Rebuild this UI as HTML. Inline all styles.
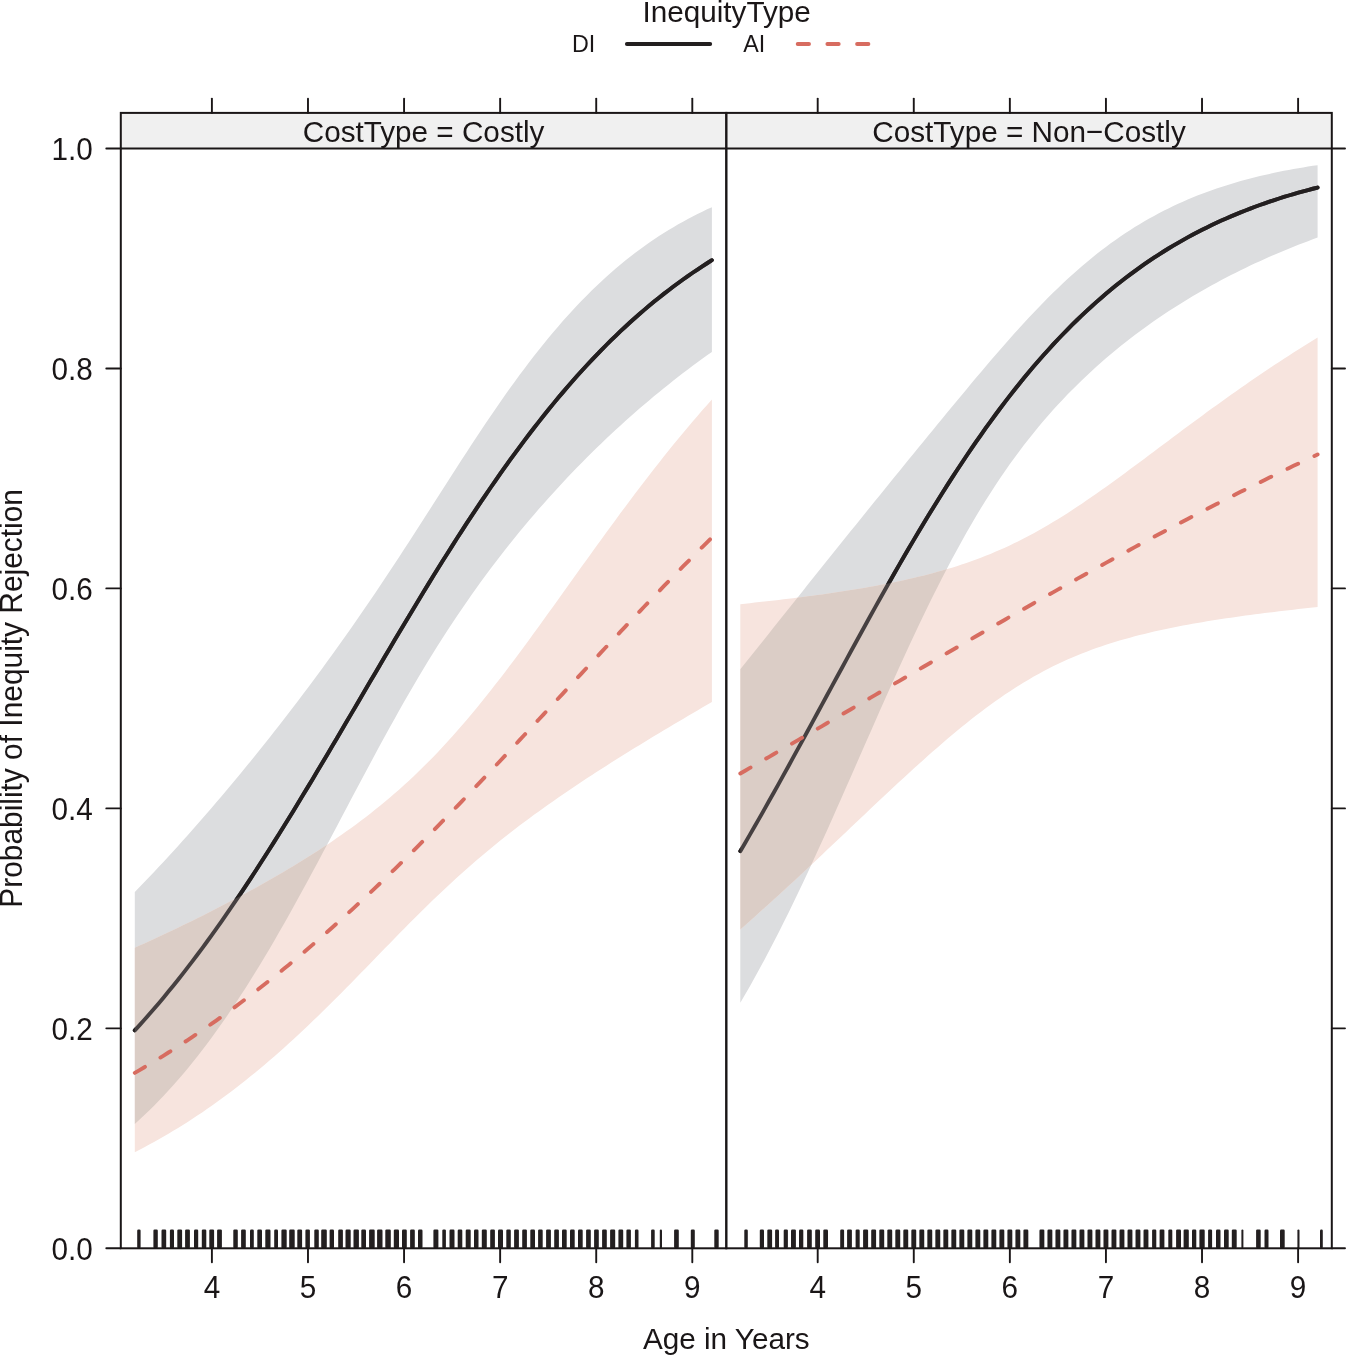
<!DOCTYPE html>
<html><head><meta charset="utf-8"><style>
html,body{margin:0;padding:0;background:#fff;}
svg{display:block;will-change:transform;}
text{font-family:"Liberation Sans",sans-serif;font-size:29.7px;fill:#1a1617;}
</style></head><body>
<svg width="1347" height="1356" viewBox="0 0 1347 1356">
<rect width="1347" height="1356" fill="#fff"/>
<path d="M134.80,892.06 L139.61,887.10 L144.42,882.10 L149.23,877.05 L154.04,871.96 L158.85,866.83 L163.66,861.66 L168.46,856.44 L173.27,851.19 L178.08,845.89 L182.89,840.55 L187.70,835.18 L192.51,829.76 L197.32,824.30 L202.13,818.80 L206.94,813.26 L211.75,807.68 L216.56,802.06 L221.37,796.41 L226.17,790.71 L230.98,784.97 L235.79,779.20 L240.60,773.38 L245.41,767.52 L250.22,761.63 L255.03,755.69 L259.84,749.72 L264.65,743.70 L269.46,737.64 L274.27,731.55 L279.07,725.41 L283.88,719.23 L288.69,713.00 L293.50,706.74 L298.31,700.43 L303.12,694.07 L307.93,687.67 L312.74,681.23 L317.55,674.74 L322.36,668.20 L327.17,661.61 L331.98,654.98 L336.78,648.29 L341.59,641.56 L346.40,634.77 L351.21,627.93 L356.02,621.04 L360.83,614.10 L365.64,607.11 L370.45,600.06 L375.26,592.96 L380.07,585.81 L384.88,578.62 L389.69,571.37 L394.50,564.08 L399.30,556.75 L404.11,549.37 L408.92,541.96 L413.73,534.52 L418.54,527.05 L423.35,519.56 L428.16,512.06 L432.97,504.54 L437.78,497.01 L442.59,489.49 L447.40,481.98 L452.20,474.48 L457.01,467.01 L461.82,459.57 L466.63,452.16 L471.44,444.80 L476.25,437.50 L481.06,430.25 L485.87,423.06 L490.68,415.95 L495.49,408.92 L500.30,401.96 L505.11,395.10 L509.91,388.33 L514.72,381.66 L519.53,375.10 L524.34,368.64 L529.15,362.28 L533.96,356.05 L538.77,349.92 L543.58,343.92 L548.39,338.03 L553.20,332.27 L558.01,326.63 L562.82,321.11 L567.62,315.71 L572.43,310.45 L577.24,305.30 L582.05,300.28 L586.86,295.39 L591.67,290.62 L596.48,285.97 L601.29,281.44 L606.10,277.03 L610.91,272.75 L615.72,268.58 L620.53,264.53 L625.33,260.59 L630.14,256.77 L634.95,253.06 L639.76,249.46 L644.57,245.97 L649.38,242.58 L654.19,239.29 L659.00,236.11 L663.81,233.02 L668.62,230.04 L673.43,227.14 L678.24,224.34 L683.04,221.63 L687.85,219.01 L692.66,216.48 L697.47,214.02 L702.28,211.65 L707.09,209.36 L711.90,207.15 L711.90,351.94 L707.09,355.34 L702.28,358.80 L697.47,362.31 L692.66,365.86 L687.85,369.46 L683.04,373.12 L678.24,376.82 L673.43,380.58 L668.62,384.39 L663.81,388.25 L659.00,392.16 L654.19,396.12 L649.38,400.14 L644.57,404.21 L639.76,408.34 L634.95,412.53 L630.14,416.77 L625.33,421.06 L620.53,425.42 L615.72,429.83 L610.91,434.30 L606.10,438.83 L601.29,443.43 L596.48,448.08 L591.67,452.80 L586.86,457.58 L582.05,462.42 L577.24,467.33 L572.43,472.30 L567.62,477.35 L562.82,482.46 L558.01,487.64 L553.20,492.90 L548.39,498.23 L543.58,503.63 L538.77,509.11 L533.96,514.67 L529.15,520.31 L524.34,526.03 L519.53,531.83 L514.72,537.72 L509.91,543.70 L505.11,549.77 L500.30,555.94 L495.49,562.20 L490.68,568.55 L485.87,575.01 L481.06,581.57 L476.25,588.24 L471.44,595.01 L466.63,601.90 L461.82,608.89 L457.01,616.00 L452.20,623.23 L447.40,630.57 L442.59,638.03 L437.78,645.60 L432.97,653.30 L428.16,661.11 L423.35,669.03 L418.54,677.07 L413.73,685.23 L408.92,693.49 L404.11,701.85 L399.30,710.32 L394.50,718.88 L389.69,727.53 L384.88,736.26 L380.07,745.07 L375.26,753.95 L370.45,762.89 L365.64,771.88 L360.83,780.91 L356.02,789.97 L351.21,799.07 L346.40,808.17 L341.59,817.29 L336.78,826.40 L331.98,835.50 L327.17,844.58 L322.36,853.62 L317.55,862.63 L312.74,871.60 L307.93,880.51 L303.12,889.35 L298.31,898.12 L293.50,906.82 L288.69,915.43 L283.88,923.95 L279.07,932.37 L274.27,940.69 L269.46,948.89 L264.65,956.99 L259.84,964.96 L255.03,972.82 L250.22,980.54 L245.41,988.14 L240.60,995.60 L235.79,1002.93 L230.98,1010.12 L226.17,1017.17 L221.37,1024.08 L216.56,1030.85 L211.75,1037.47 L206.94,1043.94 L202.13,1050.27 L197.32,1056.46 L192.51,1062.50 L187.70,1068.40 L182.89,1074.15 L178.08,1079.76 L173.27,1085.22 L168.46,1090.54 L163.66,1095.73 L158.85,1100.77 L154.04,1105.68 L149.23,1110.45 L144.42,1115.09 L139.61,1119.60 L134.80,1123.97 Z" fill="#dcdddf"/>
<path d="M134.80,947.78 L139.61,945.60 L144.42,943.41 L149.23,941.21 L154.04,938.99 L158.85,936.76 L163.66,934.51 L168.46,932.24 L173.27,929.96 L178.08,927.65 L182.89,925.34 L187.70,923.00 L192.51,920.65 L197.32,918.27 L202.13,915.88 L206.94,913.47 L211.75,911.04 L216.56,908.59 L221.37,906.12 L226.17,903.62 L230.98,901.10 L235.79,898.56 L240.60,896.00 L245.41,893.41 L250.22,890.80 L255.03,888.16 L259.84,885.49 L264.65,882.80 L269.46,880.07 L274.27,877.32 L279.07,874.53 L283.88,871.72 L288.69,868.86 L293.50,865.98 L298.31,863.05 L303.12,860.09 L307.93,857.08 L312.74,854.04 L317.55,850.95 L322.36,847.81 L327.17,844.63 L331.98,841.39 L336.78,838.11 L341.59,834.77 L346.40,831.37 L351.21,827.91 L356.02,824.39 L360.83,820.80 L365.64,817.14 L370.45,813.41 L375.26,809.61 L380.07,805.73 L384.88,801.77 L389.69,797.73 L394.50,793.60 L399.30,789.38 L404.11,785.07 L408.92,780.66 L413.73,776.16 L418.54,771.56 L423.35,766.86 L428.16,762.05 L432.97,757.15 L437.78,752.14 L442.59,747.03 L447.40,741.82 L452.20,736.50 L457.01,731.08 L461.82,725.56 L466.63,719.95 L471.44,714.24 L476.25,708.44 L481.06,702.55 L485.87,696.57 L490.68,690.51 L495.49,684.37 L500.30,678.17 L505.11,671.89 L509.91,665.55 L514.72,659.15 L519.53,652.69 L524.34,646.19 L529.15,639.64 L533.96,633.06 L538.77,626.44 L543.58,619.79 L548.39,613.11 L553.20,606.42 L558.01,599.71 L562.82,592.99 L567.62,586.27 L572.43,579.54 L577.24,572.82 L582.05,566.11 L586.86,559.40 L591.67,552.71 L596.48,546.05 L601.29,539.40 L606.10,532.78 L610.91,526.19 L615.72,519.64 L620.53,513.12 L625.33,506.64 L630.14,500.21 L634.95,493.82 L639.76,487.47 L644.57,481.18 L649.38,474.94 L654.19,468.76 L659.00,462.63 L663.81,456.56 L668.62,450.56 L673.43,444.61 L678.24,438.74 L683.04,432.92 L687.85,427.18 L692.66,421.50 L697.47,415.90 L702.28,410.37 L707.09,404.91 L711.90,399.52 L711.90,702.02 L707.09,704.81 L702.28,707.61 L697.47,710.41 L692.66,713.23 L687.85,716.05 L683.04,718.88 L678.24,721.73 L673.43,724.58 L668.62,727.45 L663.81,730.32 L659.00,733.21 L654.19,736.11 L649.38,739.03 L644.57,741.95 L639.76,744.90 L634.95,747.85 L630.14,750.82 L625.33,753.81 L620.53,756.81 L615.72,759.83 L610.91,762.87 L606.10,765.93 L601.29,769.00 L596.48,772.10 L591.67,775.22 L586.86,778.37 L582.05,781.54 L577.24,784.73 L572.43,787.95 L567.62,791.20 L562.82,794.48 L558.01,797.79 L553.20,801.13 L548.39,804.51 L543.58,807.93 L538.77,811.38 L533.96,814.87 L529.15,818.41 L524.34,821.98 L519.53,825.61 L514.72,829.28 L509.91,833.00 L505.11,836.77 L500.30,840.59 L495.49,844.47 L490.68,848.40 L485.87,852.39 L481.06,856.43 L476.25,860.54 L471.44,864.70 L466.63,868.92 L461.82,873.21 L457.01,877.55 L452.20,881.95 L447.40,886.40 L442.59,890.92 L437.78,895.48 L432.97,900.10 L428.16,904.76 L423.35,909.48 L418.54,914.23 L413.73,919.02 L408.92,923.85 L404.11,928.71 L399.30,933.59 L394.50,938.50 L389.69,943.42 L384.88,948.36 L380.07,953.30 L375.26,958.25 L370.45,963.20 L365.64,968.15 L360.83,973.08 L356.02,978.00 L351.21,982.90 L346.40,987.79 L341.59,992.64 L336.78,997.47 L331.98,1002.27 L327.17,1007.03 L322.36,1011.75 L317.55,1016.44 L312.74,1021.08 L307.93,1025.67 L303.12,1030.22 L298.31,1034.71 L293.50,1039.16 L288.69,1043.55 L283.88,1047.89 L279.07,1052.17 L274.27,1056.39 L269.46,1060.56 L264.65,1064.66 L259.84,1068.71 L255.03,1072.69 L250.22,1076.61 L245.41,1080.47 L240.60,1084.27 L235.79,1088.01 L230.98,1091.68 L226.17,1095.29 L221.37,1098.83 L216.56,1102.31 L211.75,1105.73 L206.94,1109.09 L202.13,1112.38 L197.32,1115.61 L192.51,1118.78 L187.70,1121.89 L182.89,1124.94 L178.08,1127.92 L173.27,1130.85 L168.46,1133.72 L163.66,1136.53 L158.85,1139.27 L154.04,1141.97 L149.23,1144.60 L144.42,1147.18 L139.61,1149.70 L134.80,1152.17 Z" fill="#f7e4de"/>
<clipPath id="cp1"><path d="M134.80,947.78 L139.61,945.60 L144.42,943.41 L149.23,941.21 L154.04,938.99 L158.85,936.76 L163.66,934.51 L168.46,932.24 L173.27,929.96 L178.08,927.65 L182.89,925.34 L187.70,923.00 L192.51,920.65 L197.32,918.27 L202.13,915.88 L206.94,913.47 L211.75,911.04 L216.56,908.59 L221.37,906.12 L226.17,903.62 L230.98,901.10 L235.79,898.56 L240.60,896.00 L245.41,893.41 L250.22,890.80 L255.03,888.16 L259.84,885.49 L264.65,882.80 L269.46,880.07 L274.27,877.32 L279.07,874.53 L283.88,871.72 L288.69,868.86 L293.50,865.98 L298.31,863.05 L303.12,860.09 L307.93,857.08 L312.74,854.04 L317.55,850.95 L322.36,847.81 L327.17,844.63 L331.98,841.39 L336.78,838.11 L341.59,834.77 L346.40,831.37 L351.21,827.91 L356.02,824.39 L360.83,820.80 L365.64,817.14 L370.45,813.41 L375.26,809.61 L380.07,805.73 L384.88,801.77 L389.69,797.73 L394.50,793.60 L399.30,789.38 L404.11,785.07 L408.92,780.66 L413.73,776.16 L418.54,771.56 L423.35,766.86 L428.16,762.05 L432.97,757.15 L437.78,752.14 L442.59,747.03 L447.40,741.82 L452.20,736.50 L457.01,731.08 L461.82,725.56 L466.63,719.95 L471.44,714.24 L476.25,708.44 L481.06,702.55 L485.87,696.57 L490.68,690.51 L495.49,684.37 L500.30,678.17 L505.11,671.89 L509.91,665.55 L514.72,659.15 L519.53,652.69 L524.34,646.19 L529.15,639.64 L533.96,633.06 L538.77,626.44 L543.58,619.79 L548.39,613.11 L553.20,606.42 L558.01,599.71 L562.82,592.99 L567.62,586.27 L572.43,579.54 L577.24,572.82 L582.05,566.11 L586.86,559.40 L591.67,552.71 L596.48,546.05 L601.29,539.40 L606.10,532.78 L610.91,526.19 L615.72,519.64 L620.53,513.12 L625.33,506.64 L630.14,500.21 L634.95,493.82 L639.76,487.47 L644.57,481.18 L649.38,474.94 L654.19,468.76 L659.00,462.63 L663.81,456.56 L668.62,450.56 L673.43,444.61 L678.24,438.74 L683.04,432.92 L687.85,427.18 L692.66,421.50 L697.47,415.90 L702.28,410.37 L707.09,404.91 L711.90,399.52 L711.90,702.02 L707.09,704.81 L702.28,707.61 L697.47,710.41 L692.66,713.23 L687.85,716.05 L683.04,718.88 L678.24,721.73 L673.43,724.58 L668.62,727.45 L663.81,730.32 L659.00,733.21 L654.19,736.11 L649.38,739.03 L644.57,741.95 L639.76,744.90 L634.95,747.85 L630.14,750.82 L625.33,753.81 L620.53,756.81 L615.72,759.83 L610.91,762.87 L606.10,765.93 L601.29,769.00 L596.48,772.10 L591.67,775.22 L586.86,778.37 L582.05,781.54 L577.24,784.73 L572.43,787.95 L567.62,791.20 L562.82,794.48 L558.01,797.79 L553.20,801.13 L548.39,804.51 L543.58,807.93 L538.77,811.38 L533.96,814.87 L529.15,818.41 L524.34,821.98 L519.53,825.61 L514.72,829.28 L509.91,833.00 L505.11,836.77 L500.30,840.59 L495.49,844.47 L490.68,848.40 L485.87,852.39 L481.06,856.43 L476.25,860.54 L471.44,864.70 L466.63,868.92 L461.82,873.21 L457.01,877.55 L452.20,881.95 L447.40,886.40 L442.59,890.92 L437.78,895.48 L432.97,900.10 L428.16,904.76 L423.35,909.48 L418.54,914.23 L413.73,919.02 L408.92,923.85 L404.11,928.71 L399.30,933.59 L394.50,938.50 L389.69,943.42 L384.88,948.36 L380.07,953.30 L375.26,958.25 L370.45,963.20 L365.64,968.15 L360.83,973.08 L356.02,978.00 L351.21,982.90 L346.40,987.79 L341.59,992.64 L336.78,997.47 L331.98,1002.27 L327.17,1007.03 L322.36,1011.75 L317.55,1016.44 L312.74,1021.08 L307.93,1025.67 L303.12,1030.22 L298.31,1034.71 L293.50,1039.16 L288.69,1043.55 L283.88,1047.89 L279.07,1052.17 L274.27,1056.39 L269.46,1060.56 L264.65,1064.66 L259.84,1068.71 L255.03,1072.69 L250.22,1076.61 L245.41,1080.47 L240.60,1084.27 L235.79,1088.01 L230.98,1091.68 L226.17,1095.29 L221.37,1098.83 L216.56,1102.31 L211.75,1105.73 L206.94,1109.09 L202.13,1112.38 L197.32,1115.61 L192.51,1118.78 L187.70,1121.89 L182.89,1124.94 L178.08,1127.92 L173.27,1130.85 L168.46,1133.72 L163.66,1136.53 L158.85,1139.27 L154.04,1141.97 L149.23,1144.60 L144.42,1147.18 L139.61,1149.70 L134.80,1152.17 Z"/></clipPath>
<mask id="mk1" maskUnits="userSpaceOnUse" x="0" y="0" width="1347" height="1356"><rect x="0" y="0" width="1347" height="1356" fill="#fff"/><path d="M134.80,947.78 L139.61,945.60 L144.42,943.41 L149.23,941.21 L154.04,938.99 L158.85,936.76 L163.66,934.51 L168.46,932.24 L173.27,929.96 L178.08,927.65 L182.89,925.34 L187.70,923.00 L192.51,920.65 L197.32,918.27 L202.13,915.88 L206.94,913.47 L211.75,911.04 L216.56,908.59 L221.37,906.12 L226.17,903.62 L230.98,901.10 L235.79,898.56 L240.60,896.00 L245.41,893.41 L250.22,890.80 L255.03,888.16 L259.84,885.49 L264.65,882.80 L269.46,880.07 L274.27,877.32 L279.07,874.53 L283.88,871.72 L288.69,868.86 L293.50,865.98 L298.31,863.05 L303.12,860.09 L307.93,857.08 L312.74,854.04 L317.55,850.95 L322.36,847.81 L327.17,844.63 L331.98,841.39 L336.78,838.11 L341.59,834.77 L346.40,831.37 L351.21,827.91 L356.02,824.39 L360.83,820.80 L365.64,817.14 L370.45,813.41 L375.26,809.61 L380.07,805.73 L384.88,801.77 L389.69,797.73 L394.50,793.60 L399.30,789.38 L404.11,785.07 L408.92,780.66 L413.73,776.16 L418.54,771.56 L423.35,766.86 L428.16,762.05 L432.97,757.15 L437.78,752.14 L442.59,747.03 L447.40,741.82 L452.20,736.50 L457.01,731.08 L461.82,725.56 L466.63,719.95 L471.44,714.24 L476.25,708.44 L481.06,702.55 L485.87,696.57 L490.68,690.51 L495.49,684.37 L500.30,678.17 L505.11,671.89 L509.91,665.55 L514.72,659.15 L519.53,652.69 L524.34,646.19 L529.15,639.64 L533.96,633.06 L538.77,626.44 L543.58,619.79 L548.39,613.11 L553.20,606.42 L558.01,599.71 L562.82,592.99 L567.62,586.27 L572.43,579.54 L577.24,572.82 L582.05,566.11 L586.86,559.40 L591.67,552.71 L596.48,546.05 L601.29,539.40 L606.10,532.78 L610.91,526.19 L615.72,519.64 L620.53,513.12 L625.33,506.64 L630.14,500.21 L634.95,493.82 L639.76,487.47 L644.57,481.18 L649.38,474.94 L654.19,468.76 L659.00,462.63 L663.81,456.56 L668.62,450.56 L673.43,444.61 L678.24,438.74 L683.04,432.92 L687.85,427.18 L692.66,421.50 L697.47,415.90 L702.28,410.37 L707.09,404.91 L711.90,399.52 L711.90,702.02 L707.09,704.81 L702.28,707.61 L697.47,710.41 L692.66,713.23 L687.85,716.05 L683.04,718.88 L678.24,721.73 L673.43,724.58 L668.62,727.45 L663.81,730.32 L659.00,733.21 L654.19,736.11 L649.38,739.03 L644.57,741.95 L639.76,744.90 L634.95,747.85 L630.14,750.82 L625.33,753.81 L620.53,756.81 L615.72,759.83 L610.91,762.87 L606.10,765.93 L601.29,769.00 L596.48,772.10 L591.67,775.22 L586.86,778.37 L582.05,781.54 L577.24,784.73 L572.43,787.95 L567.62,791.20 L562.82,794.48 L558.01,797.79 L553.20,801.13 L548.39,804.51 L543.58,807.93 L538.77,811.38 L533.96,814.87 L529.15,818.41 L524.34,821.98 L519.53,825.61 L514.72,829.28 L509.91,833.00 L505.11,836.77 L500.30,840.59 L495.49,844.47 L490.68,848.40 L485.87,852.39 L481.06,856.43 L476.25,860.54 L471.44,864.70 L466.63,868.92 L461.82,873.21 L457.01,877.55 L452.20,881.95 L447.40,886.40 L442.59,890.92 L437.78,895.48 L432.97,900.10 L428.16,904.76 L423.35,909.48 L418.54,914.23 L413.73,919.02 L408.92,923.85 L404.11,928.71 L399.30,933.59 L394.50,938.50 L389.69,943.42 L384.88,948.36 L380.07,953.30 L375.26,958.25 L370.45,963.20 L365.64,968.15 L360.83,973.08 L356.02,978.00 L351.21,982.90 L346.40,987.79 L341.59,992.64 L336.78,997.47 L331.98,1002.27 L327.17,1007.03 L322.36,1011.75 L317.55,1016.44 L312.74,1021.08 L307.93,1025.67 L303.12,1030.22 L298.31,1034.71 L293.50,1039.16 L288.69,1043.55 L283.88,1047.89 L279.07,1052.17 L274.27,1056.39 L269.46,1060.56 L264.65,1064.66 L259.84,1068.71 L255.03,1072.69 L250.22,1076.61 L245.41,1080.47 L240.60,1084.27 L235.79,1088.01 L230.98,1091.68 L226.17,1095.29 L221.37,1098.83 L216.56,1102.31 L211.75,1105.73 L206.94,1109.09 L202.13,1112.38 L197.32,1115.61 L192.51,1118.78 L187.70,1121.89 L182.89,1124.94 L178.08,1127.92 L173.27,1130.85 L168.46,1133.72 L163.66,1136.53 L158.85,1139.27 L154.04,1141.97 L149.23,1144.60 L144.42,1147.18 L139.61,1149.70 L134.80,1152.17 Z" fill="#000"/></mask>
<path d="M134.80,892.06 L139.61,887.10 L144.42,882.10 L149.23,877.05 L154.04,871.96 L158.85,866.83 L163.66,861.66 L168.46,856.44 L173.27,851.19 L178.08,845.89 L182.89,840.55 L187.70,835.18 L192.51,829.76 L197.32,824.30 L202.13,818.80 L206.94,813.26 L211.75,807.68 L216.56,802.06 L221.37,796.41 L226.17,790.71 L230.98,784.97 L235.79,779.20 L240.60,773.38 L245.41,767.52 L250.22,761.63 L255.03,755.69 L259.84,749.72 L264.65,743.70 L269.46,737.64 L274.27,731.55 L279.07,725.41 L283.88,719.23 L288.69,713.00 L293.50,706.74 L298.31,700.43 L303.12,694.07 L307.93,687.67 L312.74,681.23 L317.55,674.74 L322.36,668.20 L327.17,661.61 L331.98,654.98 L336.78,648.29 L341.59,641.56 L346.40,634.77 L351.21,627.93 L356.02,621.04 L360.83,614.10 L365.64,607.11 L370.45,600.06 L375.26,592.96 L380.07,585.81 L384.88,578.62 L389.69,571.37 L394.50,564.08 L399.30,556.75 L404.11,549.37 L408.92,541.96 L413.73,534.52 L418.54,527.05 L423.35,519.56 L428.16,512.06 L432.97,504.54 L437.78,497.01 L442.59,489.49 L447.40,481.98 L452.20,474.48 L457.01,467.01 L461.82,459.57 L466.63,452.16 L471.44,444.80 L476.25,437.50 L481.06,430.25 L485.87,423.06 L490.68,415.95 L495.49,408.92 L500.30,401.96 L505.11,395.10 L509.91,388.33 L514.72,381.66 L519.53,375.10 L524.34,368.64 L529.15,362.28 L533.96,356.05 L538.77,349.92 L543.58,343.92 L548.39,338.03 L553.20,332.27 L558.01,326.63 L562.82,321.11 L567.62,315.71 L572.43,310.45 L577.24,305.30 L582.05,300.28 L586.86,295.39 L591.67,290.62 L596.48,285.97 L601.29,281.44 L606.10,277.03 L610.91,272.75 L615.72,268.58 L620.53,264.53 L625.33,260.59 L630.14,256.77 L634.95,253.06 L639.76,249.46 L644.57,245.97 L649.38,242.58 L654.19,239.29 L659.00,236.11 L663.81,233.02 L668.62,230.04 L673.43,227.14 L678.24,224.34 L683.04,221.63 L687.85,219.01 L692.66,216.48 L697.47,214.02 L702.28,211.65 L707.09,209.36 L711.90,207.15 L711.90,351.94 L707.09,355.34 L702.28,358.80 L697.47,362.31 L692.66,365.86 L687.85,369.46 L683.04,373.12 L678.24,376.82 L673.43,380.58 L668.62,384.39 L663.81,388.25 L659.00,392.16 L654.19,396.12 L649.38,400.14 L644.57,404.21 L639.76,408.34 L634.95,412.53 L630.14,416.77 L625.33,421.06 L620.53,425.42 L615.72,429.83 L610.91,434.30 L606.10,438.83 L601.29,443.43 L596.48,448.08 L591.67,452.80 L586.86,457.58 L582.05,462.42 L577.24,467.33 L572.43,472.30 L567.62,477.35 L562.82,482.46 L558.01,487.64 L553.20,492.90 L548.39,498.23 L543.58,503.63 L538.77,509.11 L533.96,514.67 L529.15,520.31 L524.34,526.03 L519.53,531.83 L514.72,537.72 L509.91,543.70 L505.11,549.77 L500.30,555.94 L495.49,562.20 L490.68,568.55 L485.87,575.01 L481.06,581.57 L476.25,588.24 L471.44,595.01 L466.63,601.90 L461.82,608.89 L457.01,616.00 L452.20,623.23 L447.40,630.57 L442.59,638.03 L437.78,645.60 L432.97,653.30 L428.16,661.11 L423.35,669.03 L418.54,677.07 L413.73,685.23 L408.92,693.49 L404.11,701.85 L399.30,710.32 L394.50,718.88 L389.69,727.53 L384.88,736.26 L380.07,745.07 L375.26,753.95 L370.45,762.89 L365.64,771.88 L360.83,780.91 L356.02,789.97 L351.21,799.07 L346.40,808.17 L341.59,817.29 L336.78,826.40 L331.98,835.50 L327.17,844.58 L322.36,853.62 L317.55,862.63 L312.74,871.60 L307.93,880.51 L303.12,889.35 L298.31,898.12 L293.50,906.82 L288.69,915.43 L283.88,923.95 L279.07,932.37 L274.27,940.69 L269.46,948.89 L264.65,956.99 L259.84,964.96 L255.03,972.82 L250.22,980.54 L245.41,988.14 L240.60,995.60 L235.79,1002.93 L230.98,1010.12 L226.17,1017.17 L221.37,1024.08 L216.56,1030.85 L211.75,1037.47 L206.94,1043.94 L202.13,1050.27 L197.32,1056.46 L192.51,1062.50 L187.70,1068.40 L182.89,1074.15 L178.08,1079.76 L173.27,1085.22 L168.46,1090.54 L163.66,1095.73 L158.85,1100.77 L154.04,1105.68 L149.23,1110.45 L144.42,1115.09 L139.61,1119.60 L134.80,1123.97 Z" fill="#dbcdc6" clip-path="url(#cp1)"/>
<path d="M134.80,1030.38 L139.61,1025.13 L144.42,1019.77 L149.23,1014.33 L154.04,1008.79 L158.85,1003.16 L163.66,997.43 L168.46,991.61 L173.27,985.70 L178.08,979.69 L182.89,973.59 L187.70,967.40 L192.51,961.12 L197.32,954.75 L202.13,948.29 L206.94,941.74 L211.75,935.11 L216.56,928.39 L221.37,921.58 L226.17,914.69 L230.98,907.72 L235.79,900.67 L240.60,893.55 L245.41,886.34 L250.22,879.07 L255.03,871.72 L259.84,864.30 L264.65,856.82 L269.46,849.27 L274.27,841.66 L279.07,833.99 L283.88,826.26 L288.69,818.48 L293.50,810.65 L298.31,802.77 L303.12,794.84 L307.93,786.88 L312.74,778.88 L317.55,770.84 L322.36,762.77 L327.17,754.67 L331.98,746.54 L336.78,738.40 L341.59,730.24 L346.40,722.06 L351.21,713.87 L356.02,705.68 L360.83,697.48 L365.64,689.29 L370.45,681.09 L375.26,672.91 L380.07,664.73 L384.88,656.58 L389.69,648.44 L394.50,640.32 L399.30,632.22 L404.11,624.16 L408.92,616.13 L413.73,608.13 L418.54,600.18 L423.35,592.26 L428.16,584.39 L432.97,576.57 L437.78,568.81 L442.59,561.09 L447.40,553.43 L452.20,545.84 L457.01,538.30 L461.82,530.83 L466.63,523.43 L471.44,516.10 L476.25,508.84 L481.06,501.65 L485.87,494.54 L490.68,487.51 L495.49,480.56 L500.30,473.69 L505.11,466.90 L509.91,460.20 L514.72,453.58 L519.53,447.06 L524.34,440.61 L529.15,434.26 L533.96,428.00 L538.77,421.83 L543.58,415.75 L548.39,409.77 L553.20,403.88 L558.01,398.08 L562.82,392.37 L567.62,386.76 L572.43,381.24 L577.24,375.82 L582.05,370.49 L586.86,365.25 L591.67,360.11 L596.48,355.06 L601.29,350.11 L606.10,345.25 L610.91,340.48 L615.72,335.80 L620.53,331.21 L625.33,326.71 L630.14,322.30 L634.95,317.99 L639.76,313.75 L644.57,309.61 L649.38,305.55 L654.19,301.58 L659.00,297.70 L663.81,293.89 L668.62,290.17 L673.43,286.53 L678.24,282.97 L683.04,279.50 L687.85,276.09 L692.66,272.77 L697.47,269.52 L702.28,266.35 L707.09,263.25 L711.90,260.22" fill="none" stroke="#464041" stroke-width="3.90" stroke-linecap="round" stroke-linejoin="round"/>
<path d="M134.80,1030.38 L139.61,1025.13 L144.42,1019.77 L149.23,1014.33 L154.04,1008.79 L158.85,1003.16 L163.66,997.43 L168.46,991.61 L173.27,985.70 L178.08,979.69 L182.89,973.59 L187.70,967.40 L192.51,961.12 L197.32,954.75 L202.13,948.29 L206.94,941.74 L211.75,935.11 L216.56,928.39 L221.37,921.58 L226.17,914.69 L230.98,907.72 L235.79,900.67 L240.60,893.55 L245.41,886.34 L250.22,879.07 L255.03,871.72 L259.84,864.30 L264.65,856.82 L269.46,849.27 L274.27,841.66 L279.07,833.99 L283.88,826.26 L288.69,818.48 L293.50,810.65 L298.31,802.77 L303.12,794.84 L307.93,786.88 L312.74,778.88 L317.55,770.84 L322.36,762.77 L327.17,754.67 L331.98,746.54 L336.78,738.40 L341.59,730.24 L346.40,722.06 L351.21,713.87 L356.02,705.68 L360.83,697.48 L365.64,689.29 L370.45,681.09 L375.26,672.91 L380.07,664.73 L384.88,656.58 L389.69,648.44 L394.50,640.32 L399.30,632.22 L404.11,624.16 L408.92,616.13 L413.73,608.13 L418.54,600.18 L423.35,592.26 L428.16,584.39 L432.97,576.57 L437.78,568.81 L442.59,561.09 L447.40,553.43 L452.20,545.84 L457.01,538.30 L461.82,530.83 L466.63,523.43 L471.44,516.10 L476.25,508.84 L481.06,501.65 L485.87,494.54 L490.68,487.51 L495.49,480.56 L500.30,473.69 L505.11,466.90 L509.91,460.20 L514.72,453.58 L519.53,447.06 L524.34,440.61 L529.15,434.26 L533.96,428.00 L538.77,421.83 L543.58,415.75 L548.39,409.77 L553.20,403.88 L558.01,398.08 L562.82,392.37 L567.62,386.76 L572.43,381.24 L577.24,375.82 L582.05,370.49 L586.86,365.25 L591.67,360.11 L596.48,355.06 L601.29,350.11 L606.10,345.25 L610.91,340.48 L615.72,335.80 L620.53,331.21 L625.33,326.71 L630.14,322.30 L634.95,317.99 L639.76,313.75 L644.57,309.61 L649.38,305.55 L654.19,301.58 L659.00,297.70 L663.81,293.89 L668.62,290.17 L673.43,286.53 L678.24,282.97 L683.04,279.50 L687.85,276.09 L692.66,272.77 L697.47,269.52 L702.28,266.35 L707.09,263.25 L711.90,260.22" fill="none" stroke="#231f20" stroke-width="3.90" stroke-linecap="round" stroke-linejoin="round" mask="url(#mk1)"/>
<path d="M134.80,1072.88 L139.61,1070.08 L144.42,1067.25 L149.23,1064.37 L154.04,1061.46 L158.85,1058.52 L163.66,1055.54 L168.46,1052.52 L173.27,1049.46 L178.08,1046.37 L182.89,1043.24 L187.70,1040.08 L192.51,1036.87 L197.32,1033.63 L202.13,1030.35 L206.94,1027.03 L211.75,1023.68 L216.56,1020.29 L221.37,1016.86 L226.17,1013.39 L230.98,1009.89 L235.79,1006.34 L240.60,1002.76 L245.41,999.15 L250.22,995.49 L255.03,991.80 L259.84,988.07 L264.65,984.30 L269.46,980.49 L274.27,976.65 L279.07,972.77 L283.88,968.86 L288.69,964.91 L293.50,960.92 L298.31,956.90 L303.12,952.84 L307.93,948.74 L312.74,944.61 L317.55,940.44 L322.36,936.24 L327.17,932.01 L331.98,927.74 L336.78,923.44 L341.59,919.10 L346.40,914.73 L351.21,910.33 L356.02,905.90 L360.83,901.43 L365.64,896.93 L370.45,892.41 L375.26,887.85 L380.07,883.26 L384.88,878.64 L389.69,874.00 L394.50,869.32 L399.30,864.62 L404.11,859.90 L408.92,855.14 L413.73,850.36 L418.54,845.56 L423.35,840.73 L428.16,835.88 L432.97,831.00 L437.78,826.10 L442.59,821.18 L447.40,816.24 L452.20,811.28 L457.01,806.30 L461.82,801.31 L466.63,796.29 L471.44,791.26 L476.25,786.21 L481.06,781.15 L485.87,776.07 L490.68,770.98 L495.49,765.87 L500.30,760.75 L505.11,755.63 L509.91,750.49 L514.72,745.34 L519.53,740.19 L524.34,735.03 L529.15,729.86 L533.96,724.68 L538.77,719.51 L543.58,714.32 L548.39,709.14 L553.20,703.95 L558.01,698.76 L562.82,693.57 L567.62,688.39 L572.43,683.20 L577.24,678.02 L582.05,672.84 L586.86,667.66 L591.67,662.49 L596.48,657.33 L601.29,652.17 L606.10,647.03 L610.91,641.89 L615.72,636.76 L620.53,631.64 L625.33,626.54 L630.14,621.44 L634.95,616.36 L639.76,611.30 L644.57,606.25 L649.38,601.21 L654.19,596.19 L659.00,591.19 L663.81,586.21 L668.62,581.25 L673.43,576.30 L678.24,571.38 L683.04,566.48 L687.85,561.60 L692.66,556.75 L697.47,551.91 L702.28,547.11 L707.09,542.32 L711.90,537.57" fill="none" stroke="#d76c60" stroke-width="3.90" stroke-linecap="round" stroke-linejoin="round" stroke-dasharray="11.8 18.03"/>
<path d="M740.30,669.36 L745.11,663.33 L749.92,657.30 L754.73,651.27 L759.54,645.23 L764.35,639.19 L769.16,633.15 L773.98,627.11 L778.79,621.07 L783.60,615.03 L788.41,608.99 L793.22,602.95 L798.03,596.92 L802.84,590.89 L807.65,584.86 L812.46,578.84 L817.27,572.82 L822.08,566.81 L826.89,560.80 L831.71,554.80 L836.52,548.80 L841.33,542.81 L846.14,536.83 L850.95,530.85 L855.76,524.88 L860.57,518.92 L865.38,512.96 L870.19,507.01 L875.00,501.07 L879.81,495.13 L884.62,489.20 L889.44,483.27 L894.25,477.35 L899.06,471.43 L903.87,465.53 L908.68,459.62 L913.49,453.72 L918.30,447.83 L923.11,441.94 L927.92,436.06 L932.73,430.19 L937.54,424.32 L942.35,418.47 L947.17,412.62 L951.98,406.79 L956.79,400.97 L961.60,395.16 L966.41,389.38 L971.22,383.61 L976.03,377.87 L980.84,372.16 L985.65,366.48 L990.46,360.84 L995.27,355.24 L1000.08,349.68 L1004.90,344.17 L1009.71,338.72 L1014.52,333.32 L1019.33,327.99 L1024.14,322.73 L1028.95,317.54 L1033.76,312.42 L1038.57,307.39 L1043.38,302.44 L1048.19,297.58 L1053.00,292.81 L1057.82,288.13 L1062.63,283.55 L1067.44,279.07 L1072.25,274.69 L1077.06,270.41 L1081.87,266.23 L1086.68,262.16 L1091.49,258.19 L1096.30,254.32 L1101.11,250.56 L1105.92,246.91 L1110.73,243.36 L1115.55,239.91 L1120.36,236.56 L1125.17,233.32 L1129.98,230.17 L1134.79,227.12 L1139.60,224.17 L1144.41,221.32 L1149.22,218.55 L1154.03,215.88 L1158.84,213.30 L1163.65,210.80 L1168.46,208.39 L1173.27,206.07 L1178.09,203.82 L1182.90,201.66 L1187.71,199.57 L1192.52,197.56 L1197.33,195.62 L1202.14,193.75 L1206.95,191.95 L1211.76,190.21 L1216.57,188.54 L1221.38,186.93 L1226.19,185.39 L1231.00,183.90 L1235.82,182.47 L1240.63,181.09 L1245.44,179.76 L1250.25,178.49 L1255.06,177.27 L1259.87,176.09 L1264.68,174.96 L1269.49,173.88 L1274.30,172.83 L1279.11,171.83 L1283.92,170.87 L1288.73,169.95 L1293.55,169.06 L1298.36,168.21 L1303.17,167.39 L1307.98,166.61 L1312.79,165.86 L1317.60,165.13 L1317.60,237.57 L1312.79,239.33 L1307.98,241.14 L1303.17,242.97 L1298.36,244.84 L1293.55,246.74 L1288.73,248.69 L1283.92,250.66 L1279.11,252.68 L1274.30,254.74 L1269.49,256.83 L1264.68,258.96 L1259.87,261.14 L1255.06,263.35 L1250.25,265.61 L1245.44,267.91 L1240.63,270.25 L1235.82,272.64 L1231.00,275.08 L1226.19,277.56 L1221.38,280.09 L1216.57,282.67 L1211.76,285.29 L1206.95,287.97 L1202.14,290.70 L1197.33,293.48 L1192.52,296.32 L1187.71,299.21 L1182.90,302.16 L1178.09,305.16 L1173.27,308.23 L1168.46,311.35 L1163.65,314.54 L1158.84,317.79 L1154.03,321.11 L1149.22,324.49 L1144.41,327.95 L1139.60,331.47 L1134.79,335.07 L1129.98,338.75 L1125.17,342.50 L1120.36,346.33 L1115.55,350.24 L1110.73,354.24 L1105.92,358.33 L1101.11,362.51 L1096.30,366.78 L1091.49,371.15 L1086.68,375.63 L1081.87,380.20 L1077.06,384.89 L1072.25,389.68 L1067.44,394.60 L1062.63,399.63 L1057.82,404.79 L1053.00,410.08 L1048.19,415.51 L1043.38,421.07 L1038.57,426.79 L1033.76,432.65 L1028.95,438.66 L1024.14,444.83 L1019.33,451.17 L1014.52,457.68 L1009.71,464.36 L1004.90,471.22 L1000.08,478.26 L995.27,485.49 L990.46,492.90 L985.65,500.50 L980.84,508.29 L976.03,516.28 L971.22,524.46 L966.41,532.83 L961.60,541.39 L956.79,550.13 L951.98,559.06 L947.17,568.18 L942.35,577.46 L937.54,586.92 L932.73,596.55 L927.92,606.33 L923.11,616.25 L918.30,626.33 L913.49,636.53 L908.68,646.85 L903.87,657.29 L899.06,667.84 L894.25,678.47 L889.44,689.18 L884.62,699.97 L879.81,710.81 L875.00,721.70 L870.19,732.63 L865.38,743.58 L860.57,754.54 L855.76,765.50 L850.95,776.45 L846.14,787.37 L841.33,798.27 L836.52,809.11 L831.71,819.90 L826.89,830.63 L822.08,841.28 L817.27,851.84 L812.46,862.30 L807.65,872.66 L802.84,882.91 L798.03,893.04 L793.22,903.03 L788.41,912.89 L783.60,922.61 L778.79,932.18 L773.98,941.59 L769.16,950.85 L764.35,959.94 L759.54,968.86 L754.73,977.60 L749.92,986.17 L745.11,994.57 L740.30,1002.78 Z" fill="#dcdddf"/>
<path d="M740.30,604.14 L745.11,603.64 L749.92,603.13 L754.73,602.61 L759.54,602.09 L764.35,601.55 L769.16,601.01 L773.98,600.46 L778.79,599.90 L783.60,599.33 L788.41,598.75 L793.22,598.17 L798.03,597.56 L802.84,596.95 L807.65,596.33 L812.46,595.69 L817.27,595.04 L822.08,594.38 L826.89,593.70 L831.71,593.01 L836.52,592.30 L841.33,591.57 L846.14,590.83 L850.95,590.07 L855.76,589.29 L860.57,588.49 L865.38,587.66 L870.19,586.82 L875.00,585.95 L879.81,585.06 L884.62,584.14 L889.44,583.19 L894.25,582.21 L899.06,581.21 L903.87,580.17 L908.68,579.10 L913.49,577.99 L918.30,576.85 L923.11,575.67 L927.92,574.44 L932.73,573.18 L937.54,571.86 L942.35,570.51 L947.17,569.10 L951.98,567.64 L956.79,566.13 L961.60,564.56 L966.41,562.94 L971.22,561.25 L976.03,559.51 L980.84,557.70 L985.65,555.82 L990.46,553.88 L995.27,551.87 L1000.08,549.79 L1004.90,547.63 L1009.71,545.40 L1014.52,543.11 L1019.33,540.73 L1024.14,538.29 L1028.95,535.77 L1033.76,533.18 L1038.57,530.51 L1043.38,527.78 L1048.19,524.98 L1053.00,522.11 L1057.82,519.18 L1062.63,516.18 L1067.44,513.13 L1072.25,510.01 L1077.06,506.85 L1081.87,503.63 L1086.68,500.37 L1091.49,497.06 L1096.30,493.71 L1101.11,490.32 L1105.92,486.89 L1110.73,483.44 L1115.55,479.96 L1120.36,476.45 L1125.17,472.92 L1129.98,469.37 L1134.79,465.81 L1139.60,462.23 L1144.41,458.65 L1149.22,455.05 L1154.03,451.45 L1158.84,447.85 L1163.65,444.25 L1168.46,440.64 L1173.27,437.05 L1178.09,433.46 L1182.90,429.87 L1187.71,426.30 L1192.52,422.73 L1197.33,419.18 L1202.14,415.64 L1206.95,412.12 L1211.76,408.62 L1216.57,405.13 L1221.38,401.66 L1226.19,398.22 L1231.00,394.79 L1235.82,391.39 L1240.63,388.01 L1245.44,384.65 L1250.25,381.32 L1255.06,378.01 L1259.87,374.73 L1264.68,371.48 L1269.49,368.26 L1274.30,365.06 L1279.11,361.89 L1283.92,358.75 L1288.73,355.64 L1293.55,352.56 L1298.36,349.51 L1303.17,346.49 L1307.98,343.50 L1312.79,340.54 L1317.60,337.61 L1317.60,607.05 L1312.79,607.56 L1307.98,608.07 L1303.17,608.59 L1298.36,609.12 L1293.55,609.66 L1288.73,610.21 L1283.92,610.76 L1279.11,611.33 L1274.30,611.91 L1269.49,612.49 L1264.68,613.09 L1259.87,613.70 L1255.06,614.33 L1250.25,614.96 L1245.44,615.61 L1240.63,616.27 L1235.82,616.95 L1231.00,617.64 L1226.19,618.35 L1221.38,619.08 L1216.57,619.82 L1211.76,620.58 L1206.95,621.37 L1202.14,622.17 L1197.33,623.00 L1192.52,623.85 L1187.71,624.72 L1182.90,625.62 L1178.09,626.54 L1173.27,627.50 L1168.46,628.48 L1163.65,629.49 L1158.84,630.54 L1154.03,631.62 L1149.22,632.74 L1144.41,633.90 L1139.60,635.10 L1134.79,636.34 L1129.98,637.63 L1125.17,638.96 L1120.36,640.35 L1115.55,641.78 L1110.73,643.27 L1105.92,644.82 L1101.11,646.43 L1096.30,648.10 L1091.49,649.83 L1086.68,651.64 L1081.87,653.51 L1077.06,655.46 L1072.25,657.48 L1067.44,659.58 L1062.63,661.76 L1057.82,664.02 L1053.00,666.36 L1048.19,668.79 L1043.38,671.31 L1038.57,673.91 L1033.76,676.60 L1028.95,679.38 L1024.14,682.25 L1019.33,685.21 L1014.52,688.26 L1009.71,691.39 L1004.90,694.61 L1000.08,697.91 L995.27,701.30 L990.46,704.76 L985.65,708.30 L980.84,711.92 L976.03,715.61 L971.22,719.37 L966.41,723.20 L961.60,727.09 L956.79,731.04 L951.98,735.05 L947.17,739.12 L942.35,743.23 L937.54,747.40 L932.73,751.60 L927.92,755.85 L923.11,760.14 L918.30,764.47 L913.49,768.83 L908.68,773.22 L903.87,777.63 L899.06,782.07 L894.25,786.54 L889.44,791.02 L884.62,795.52 L879.81,800.04 L875.00,804.57 L870.19,809.10 L865.38,813.65 L860.57,818.20 L855.76,822.76 L850.95,827.32 L846.14,831.88 L841.33,836.44 L836.52,841.00 L831.71,845.55 L826.89,850.10 L822.08,854.64 L817.27,859.17 L812.46,863.69 L807.65,868.20 L802.84,872.69 L798.03,877.17 L793.22,881.64 L788.41,886.09 L783.60,890.52 L778.79,894.93 L773.98,899.32 L769.16,903.69 L764.35,908.04 L759.54,912.36 L754.73,916.66 L749.92,920.94 L745.11,925.19 L740.30,929.42 Z" fill="#f7e4de"/>
<clipPath id="cp2"><path d="M740.30,604.14 L745.11,603.64 L749.92,603.13 L754.73,602.61 L759.54,602.09 L764.35,601.55 L769.16,601.01 L773.98,600.46 L778.79,599.90 L783.60,599.33 L788.41,598.75 L793.22,598.17 L798.03,597.56 L802.84,596.95 L807.65,596.33 L812.46,595.69 L817.27,595.04 L822.08,594.38 L826.89,593.70 L831.71,593.01 L836.52,592.30 L841.33,591.57 L846.14,590.83 L850.95,590.07 L855.76,589.29 L860.57,588.49 L865.38,587.66 L870.19,586.82 L875.00,585.95 L879.81,585.06 L884.62,584.14 L889.44,583.19 L894.25,582.21 L899.06,581.21 L903.87,580.17 L908.68,579.10 L913.49,577.99 L918.30,576.85 L923.11,575.67 L927.92,574.44 L932.73,573.18 L937.54,571.86 L942.35,570.51 L947.17,569.10 L951.98,567.64 L956.79,566.13 L961.60,564.56 L966.41,562.94 L971.22,561.25 L976.03,559.51 L980.84,557.70 L985.65,555.82 L990.46,553.88 L995.27,551.87 L1000.08,549.79 L1004.90,547.63 L1009.71,545.40 L1014.52,543.11 L1019.33,540.73 L1024.14,538.29 L1028.95,535.77 L1033.76,533.18 L1038.57,530.51 L1043.38,527.78 L1048.19,524.98 L1053.00,522.11 L1057.82,519.18 L1062.63,516.18 L1067.44,513.13 L1072.25,510.01 L1077.06,506.85 L1081.87,503.63 L1086.68,500.37 L1091.49,497.06 L1096.30,493.71 L1101.11,490.32 L1105.92,486.89 L1110.73,483.44 L1115.55,479.96 L1120.36,476.45 L1125.17,472.92 L1129.98,469.37 L1134.79,465.81 L1139.60,462.23 L1144.41,458.65 L1149.22,455.05 L1154.03,451.45 L1158.84,447.85 L1163.65,444.25 L1168.46,440.64 L1173.27,437.05 L1178.09,433.46 L1182.90,429.87 L1187.71,426.30 L1192.52,422.73 L1197.33,419.18 L1202.14,415.64 L1206.95,412.12 L1211.76,408.62 L1216.57,405.13 L1221.38,401.66 L1226.19,398.22 L1231.00,394.79 L1235.82,391.39 L1240.63,388.01 L1245.44,384.65 L1250.25,381.32 L1255.06,378.01 L1259.87,374.73 L1264.68,371.48 L1269.49,368.26 L1274.30,365.06 L1279.11,361.89 L1283.92,358.75 L1288.73,355.64 L1293.55,352.56 L1298.36,349.51 L1303.17,346.49 L1307.98,343.50 L1312.79,340.54 L1317.60,337.61 L1317.60,607.05 L1312.79,607.56 L1307.98,608.07 L1303.17,608.59 L1298.36,609.12 L1293.55,609.66 L1288.73,610.21 L1283.92,610.76 L1279.11,611.33 L1274.30,611.91 L1269.49,612.49 L1264.68,613.09 L1259.87,613.70 L1255.06,614.33 L1250.25,614.96 L1245.44,615.61 L1240.63,616.27 L1235.82,616.95 L1231.00,617.64 L1226.19,618.35 L1221.38,619.08 L1216.57,619.82 L1211.76,620.58 L1206.95,621.37 L1202.14,622.17 L1197.33,623.00 L1192.52,623.85 L1187.71,624.72 L1182.90,625.62 L1178.09,626.54 L1173.27,627.50 L1168.46,628.48 L1163.65,629.49 L1158.84,630.54 L1154.03,631.62 L1149.22,632.74 L1144.41,633.90 L1139.60,635.10 L1134.79,636.34 L1129.98,637.63 L1125.17,638.96 L1120.36,640.35 L1115.55,641.78 L1110.73,643.27 L1105.92,644.82 L1101.11,646.43 L1096.30,648.10 L1091.49,649.83 L1086.68,651.64 L1081.87,653.51 L1077.06,655.46 L1072.25,657.48 L1067.44,659.58 L1062.63,661.76 L1057.82,664.02 L1053.00,666.36 L1048.19,668.79 L1043.38,671.31 L1038.57,673.91 L1033.76,676.60 L1028.95,679.38 L1024.14,682.25 L1019.33,685.21 L1014.52,688.26 L1009.71,691.39 L1004.90,694.61 L1000.08,697.91 L995.27,701.30 L990.46,704.76 L985.65,708.30 L980.84,711.92 L976.03,715.61 L971.22,719.37 L966.41,723.20 L961.60,727.09 L956.79,731.04 L951.98,735.05 L947.17,739.12 L942.35,743.23 L937.54,747.40 L932.73,751.60 L927.92,755.85 L923.11,760.14 L918.30,764.47 L913.49,768.83 L908.68,773.22 L903.87,777.63 L899.06,782.07 L894.25,786.54 L889.44,791.02 L884.62,795.52 L879.81,800.04 L875.00,804.57 L870.19,809.10 L865.38,813.65 L860.57,818.20 L855.76,822.76 L850.95,827.32 L846.14,831.88 L841.33,836.44 L836.52,841.00 L831.71,845.55 L826.89,850.10 L822.08,854.64 L817.27,859.17 L812.46,863.69 L807.65,868.20 L802.84,872.69 L798.03,877.17 L793.22,881.64 L788.41,886.09 L783.60,890.52 L778.79,894.93 L773.98,899.32 L769.16,903.69 L764.35,908.04 L759.54,912.36 L754.73,916.66 L749.92,920.94 L745.11,925.19 L740.30,929.42 Z"/></clipPath>
<mask id="mk2" maskUnits="userSpaceOnUse" x="0" y="0" width="1347" height="1356"><rect x="0" y="0" width="1347" height="1356" fill="#fff"/><path d="M740.30,604.14 L745.11,603.64 L749.92,603.13 L754.73,602.61 L759.54,602.09 L764.35,601.55 L769.16,601.01 L773.98,600.46 L778.79,599.90 L783.60,599.33 L788.41,598.75 L793.22,598.17 L798.03,597.56 L802.84,596.95 L807.65,596.33 L812.46,595.69 L817.27,595.04 L822.08,594.38 L826.89,593.70 L831.71,593.01 L836.52,592.30 L841.33,591.57 L846.14,590.83 L850.95,590.07 L855.76,589.29 L860.57,588.49 L865.38,587.66 L870.19,586.82 L875.00,585.95 L879.81,585.06 L884.62,584.14 L889.44,583.19 L894.25,582.21 L899.06,581.21 L903.87,580.17 L908.68,579.10 L913.49,577.99 L918.30,576.85 L923.11,575.67 L927.92,574.44 L932.73,573.18 L937.54,571.86 L942.35,570.51 L947.17,569.10 L951.98,567.64 L956.79,566.13 L961.60,564.56 L966.41,562.94 L971.22,561.25 L976.03,559.51 L980.84,557.70 L985.65,555.82 L990.46,553.88 L995.27,551.87 L1000.08,549.79 L1004.90,547.63 L1009.71,545.40 L1014.52,543.11 L1019.33,540.73 L1024.14,538.29 L1028.95,535.77 L1033.76,533.18 L1038.57,530.51 L1043.38,527.78 L1048.19,524.98 L1053.00,522.11 L1057.82,519.18 L1062.63,516.18 L1067.44,513.13 L1072.25,510.01 L1077.06,506.85 L1081.87,503.63 L1086.68,500.37 L1091.49,497.06 L1096.30,493.71 L1101.11,490.32 L1105.92,486.89 L1110.73,483.44 L1115.55,479.96 L1120.36,476.45 L1125.17,472.92 L1129.98,469.37 L1134.79,465.81 L1139.60,462.23 L1144.41,458.65 L1149.22,455.05 L1154.03,451.45 L1158.84,447.85 L1163.65,444.25 L1168.46,440.64 L1173.27,437.05 L1178.09,433.46 L1182.90,429.87 L1187.71,426.30 L1192.52,422.73 L1197.33,419.18 L1202.14,415.64 L1206.95,412.12 L1211.76,408.62 L1216.57,405.13 L1221.38,401.66 L1226.19,398.22 L1231.00,394.79 L1235.82,391.39 L1240.63,388.01 L1245.44,384.65 L1250.25,381.32 L1255.06,378.01 L1259.87,374.73 L1264.68,371.48 L1269.49,368.26 L1274.30,365.06 L1279.11,361.89 L1283.92,358.75 L1288.73,355.64 L1293.55,352.56 L1298.36,349.51 L1303.17,346.49 L1307.98,343.50 L1312.79,340.54 L1317.60,337.61 L1317.60,607.05 L1312.79,607.56 L1307.98,608.07 L1303.17,608.59 L1298.36,609.12 L1293.55,609.66 L1288.73,610.21 L1283.92,610.76 L1279.11,611.33 L1274.30,611.91 L1269.49,612.49 L1264.68,613.09 L1259.87,613.70 L1255.06,614.33 L1250.25,614.96 L1245.44,615.61 L1240.63,616.27 L1235.82,616.95 L1231.00,617.64 L1226.19,618.35 L1221.38,619.08 L1216.57,619.82 L1211.76,620.58 L1206.95,621.37 L1202.14,622.17 L1197.33,623.00 L1192.52,623.85 L1187.71,624.72 L1182.90,625.62 L1178.09,626.54 L1173.27,627.50 L1168.46,628.48 L1163.65,629.49 L1158.84,630.54 L1154.03,631.62 L1149.22,632.74 L1144.41,633.90 L1139.60,635.10 L1134.79,636.34 L1129.98,637.63 L1125.17,638.96 L1120.36,640.35 L1115.55,641.78 L1110.73,643.27 L1105.92,644.82 L1101.11,646.43 L1096.30,648.10 L1091.49,649.83 L1086.68,651.64 L1081.87,653.51 L1077.06,655.46 L1072.25,657.48 L1067.44,659.58 L1062.63,661.76 L1057.82,664.02 L1053.00,666.36 L1048.19,668.79 L1043.38,671.31 L1038.57,673.91 L1033.76,676.60 L1028.95,679.38 L1024.14,682.25 L1019.33,685.21 L1014.52,688.26 L1009.71,691.39 L1004.90,694.61 L1000.08,697.91 L995.27,701.30 L990.46,704.76 L985.65,708.30 L980.84,711.92 L976.03,715.61 L971.22,719.37 L966.41,723.20 L961.60,727.09 L956.79,731.04 L951.98,735.05 L947.17,739.12 L942.35,743.23 L937.54,747.40 L932.73,751.60 L927.92,755.85 L923.11,760.14 L918.30,764.47 L913.49,768.83 L908.68,773.22 L903.87,777.63 L899.06,782.07 L894.25,786.54 L889.44,791.02 L884.62,795.52 L879.81,800.04 L875.00,804.57 L870.19,809.10 L865.38,813.65 L860.57,818.20 L855.76,822.76 L850.95,827.32 L846.14,831.88 L841.33,836.44 L836.52,841.00 L831.71,845.55 L826.89,850.10 L822.08,854.64 L817.27,859.17 L812.46,863.69 L807.65,868.20 L802.84,872.69 L798.03,877.17 L793.22,881.64 L788.41,886.09 L783.60,890.52 L778.79,894.93 L773.98,899.32 L769.16,903.69 L764.35,908.04 L759.54,912.36 L754.73,916.66 L749.92,920.94 L745.11,925.19 L740.30,929.42 Z" fill="#000"/></mask>
<path d="M740.30,669.36 L745.11,663.33 L749.92,657.30 L754.73,651.27 L759.54,645.23 L764.35,639.19 L769.16,633.15 L773.98,627.11 L778.79,621.07 L783.60,615.03 L788.41,608.99 L793.22,602.95 L798.03,596.92 L802.84,590.89 L807.65,584.86 L812.46,578.84 L817.27,572.82 L822.08,566.81 L826.89,560.80 L831.71,554.80 L836.52,548.80 L841.33,542.81 L846.14,536.83 L850.95,530.85 L855.76,524.88 L860.57,518.92 L865.38,512.96 L870.19,507.01 L875.00,501.07 L879.81,495.13 L884.62,489.20 L889.44,483.27 L894.25,477.35 L899.06,471.43 L903.87,465.53 L908.68,459.62 L913.49,453.72 L918.30,447.83 L923.11,441.94 L927.92,436.06 L932.73,430.19 L937.54,424.32 L942.35,418.47 L947.17,412.62 L951.98,406.79 L956.79,400.97 L961.60,395.16 L966.41,389.38 L971.22,383.61 L976.03,377.87 L980.84,372.16 L985.65,366.48 L990.46,360.84 L995.27,355.24 L1000.08,349.68 L1004.90,344.17 L1009.71,338.72 L1014.52,333.32 L1019.33,327.99 L1024.14,322.73 L1028.95,317.54 L1033.76,312.42 L1038.57,307.39 L1043.38,302.44 L1048.19,297.58 L1053.00,292.81 L1057.82,288.13 L1062.63,283.55 L1067.44,279.07 L1072.25,274.69 L1077.06,270.41 L1081.87,266.23 L1086.68,262.16 L1091.49,258.19 L1096.30,254.32 L1101.11,250.56 L1105.92,246.91 L1110.73,243.36 L1115.55,239.91 L1120.36,236.56 L1125.17,233.32 L1129.98,230.17 L1134.79,227.12 L1139.60,224.17 L1144.41,221.32 L1149.22,218.55 L1154.03,215.88 L1158.84,213.30 L1163.65,210.80 L1168.46,208.39 L1173.27,206.07 L1178.09,203.82 L1182.90,201.66 L1187.71,199.57 L1192.52,197.56 L1197.33,195.62 L1202.14,193.75 L1206.95,191.95 L1211.76,190.21 L1216.57,188.54 L1221.38,186.93 L1226.19,185.39 L1231.00,183.90 L1235.82,182.47 L1240.63,181.09 L1245.44,179.76 L1250.25,178.49 L1255.06,177.27 L1259.87,176.09 L1264.68,174.96 L1269.49,173.88 L1274.30,172.83 L1279.11,171.83 L1283.92,170.87 L1288.73,169.95 L1293.55,169.06 L1298.36,168.21 L1303.17,167.39 L1307.98,166.61 L1312.79,165.86 L1317.60,165.13 L1317.60,237.57 L1312.79,239.33 L1307.98,241.14 L1303.17,242.97 L1298.36,244.84 L1293.55,246.74 L1288.73,248.69 L1283.92,250.66 L1279.11,252.68 L1274.30,254.74 L1269.49,256.83 L1264.68,258.96 L1259.87,261.14 L1255.06,263.35 L1250.25,265.61 L1245.44,267.91 L1240.63,270.25 L1235.82,272.64 L1231.00,275.08 L1226.19,277.56 L1221.38,280.09 L1216.57,282.67 L1211.76,285.29 L1206.95,287.97 L1202.14,290.70 L1197.33,293.48 L1192.52,296.32 L1187.71,299.21 L1182.90,302.16 L1178.09,305.16 L1173.27,308.23 L1168.46,311.35 L1163.65,314.54 L1158.84,317.79 L1154.03,321.11 L1149.22,324.49 L1144.41,327.95 L1139.60,331.47 L1134.79,335.07 L1129.98,338.75 L1125.17,342.50 L1120.36,346.33 L1115.55,350.24 L1110.73,354.24 L1105.92,358.33 L1101.11,362.51 L1096.30,366.78 L1091.49,371.15 L1086.68,375.63 L1081.87,380.20 L1077.06,384.89 L1072.25,389.68 L1067.44,394.60 L1062.63,399.63 L1057.82,404.79 L1053.00,410.08 L1048.19,415.51 L1043.38,421.07 L1038.57,426.79 L1033.76,432.65 L1028.95,438.66 L1024.14,444.83 L1019.33,451.17 L1014.52,457.68 L1009.71,464.36 L1004.90,471.22 L1000.08,478.26 L995.27,485.49 L990.46,492.90 L985.65,500.50 L980.84,508.29 L976.03,516.28 L971.22,524.46 L966.41,532.83 L961.60,541.39 L956.79,550.13 L951.98,559.06 L947.17,568.18 L942.35,577.46 L937.54,586.92 L932.73,596.55 L927.92,606.33 L923.11,616.25 L918.30,626.33 L913.49,636.53 L908.68,646.85 L903.87,657.29 L899.06,667.84 L894.25,678.47 L889.44,689.18 L884.62,699.97 L879.81,710.81 L875.00,721.70 L870.19,732.63 L865.38,743.58 L860.57,754.54 L855.76,765.50 L850.95,776.45 L846.14,787.37 L841.33,798.27 L836.52,809.11 L831.71,819.90 L826.89,830.63 L822.08,841.28 L817.27,851.84 L812.46,862.30 L807.65,872.66 L802.84,882.91 L798.03,893.04 L793.22,903.03 L788.41,912.89 L783.60,922.61 L778.79,932.18 L773.98,941.59 L769.16,950.85 L764.35,959.94 L759.54,968.86 L754.73,977.60 L749.92,986.17 L745.11,994.57 L740.30,1002.78 Z" fill="#dbcdc6" clip-path="url(#cp2)"/>
<path d="M740.30,851.16 L745.11,842.93 L749.92,834.64 L754.73,826.28 L759.54,817.85 L764.35,809.37 L769.16,800.83 L773.98,792.23 L778.79,783.59 L783.60,774.91 L788.41,766.19 L793.22,757.43 L798.03,748.65 L802.84,739.83 L807.65,731.00 L812.46,722.15 L817.27,713.29 L822.08,704.42 L826.89,695.54 L831.71,686.67 L836.52,677.80 L841.33,668.95 L846.14,660.11 L850.95,651.28 L855.76,642.49 L860.57,633.72 L865.38,624.99 L870.19,616.29 L875.00,607.63 L879.81,599.03 L884.62,590.47 L889.44,581.96 L894.25,573.51 L899.06,565.13 L903.87,556.81 L908.68,548.56 L913.49,540.38 L918.30,532.28 L923.11,524.25 L927.92,516.31 L932.73,508.45 L937.54,500.68 L942.35,493.00 L947.17,485.41 L951.98,477.91 L956.79,470.51 L961.60,463.21 L966.41,456.01 L971.22,448.91 L976.03,441.91 L980.84,435.02 L985.65,428.24 L990.46,421.56 L995.27,414.99 L1000.08,408.52 L1004.90,402.17 L1009.71,395.93 L1014.52,389.79 L1019.33,383.77 L1024.14,377.85 L1028.95,372.05 L1033.76,366.36 L1038.57,360.77 L1043.38,355.30 L1048.19,349.93 L1053.00,344.68 L1057.82,339.53 L1062.63,334.49 L1067.44,329.55 L1072.25,324.72 L1077.06,320.00 L1081.87,315.38 L1086.68,310.86 L1091.49,306.44 L1096.30,302.13 L1101.11,297.91 L1105.92,293.79 L1110.73,289.77 L1115.55,285.84 L1120.36,282.01 L1125.17,278.27 L1129.98,274.62 L1134.79,271.06 L1139.60,267.59 L1144.41,264.21 L1149.22,260.91 L1154.03,257.69 L1158.84,254.56 L1163.65,251.51 L1168.46,248.53 L1173.27,245.63 L1178.09,242.81 L1182.90,240.07 L1187.71,237.39 L1192.52,234.79 L1197.33,232.26 L1202.14,229.80 L1206.95,227.40 L1211.76,225.07 L1216.57,222.80 L1221.38,220.60 L1226.19,218.45 L1231.00,216.37 L1235.82,214.34 L1240.63,212.37 L1245.44,210.46 L1250.25,208.60 L1255.06,206.79 L1259.87,205.03 L1264.68,203.33 L1269.49,201.67 L1274.30,200.06 L1279.11,198.50 L1283.92,196.98 L1288.73,195.50 L1293.55,194.07 L1298.36,192.68 L1303.17,191.34 L1307.98,190.03 L1312.79,188.76 L1317.60,187.52" fill="none" stroke="#464041" stroke-width="3.90" stroke-linecap="round" stroke-linejoin="round"/>
<path d="M740.30,851.16 L745.11,842.93 L749.92,834.64 L754.73,826.28 L759.54,817.85 L764.35,809.37 L769.16,800.83 L773.98,792.23 L778.79,783.59 L783.60,774.91 L788.41,766.19 L793.22,757.43 L798.03,748.65 L802.84,739.83 L807.65,731.00 L812.46,722.15 L817.27,713.29 L822.08,704.42 L826.89,695.54 L831.71,686.67 L836.52,677.80 L841.33,668.95 L846.14,660.11 L850.95,651.28 L855.76,642.49 L860.57,633.72 L865.38,624.99 L870.19,616.29 L875.00,607.63 L879.81,599.03 L884.62,590.47 L889.44,581.96 L894.25,573.51 L899.06,565.13 L903.87,556.81 L908.68,548.56 L913.49,540.38 L918.30,532.28 L923.11,524.25 L927.92,516.31 L932.73,508.45 L937.54,500.68 L942.35,493.00 L947.17,485.41 L951.98,477.91 L956.79,470.51 L961.60,463.21 L966.41,456.01 L971.22,448.91 L976.03,441.91 L980.84,435.02 L985.65,428.24 L990.46,421.56 L995.27,414.99 L1000.08,408.52 L1004.90,402.17 L1009.71,395.93 L1014.52,389.79 L1019.33,383.77 L1024.14,377.85 L1028.95,372.05 L1033.76,366.36 L1038.57,360.77 L1043.38,355.30 L1048.19,349.93 L1053.00,344.68 L1057.82,339.53 L1062.63,334.49 L1067.44,329.55 L1072.25,324.72 L1077.06,320.00 L1081.87,315.38 L1086.68,310.86 L1091.49,306.44 L1096.30,302.13 L1101.11,297.91 L1105.92,293.79 L1110.73,289.77 L1115.55,285.84 L1120.36,282.01 L1125.17,278.27 L1129.98,274.62 L1134.79,271.06 L1139.60,267.59 L1144.41,264.21 L1149.22,260.91 L1154.03,257.69 L1158.84,254.56 L1163.65,251.51 L1168.46,248.53 L1173.27,245.63 L1178.09,242.81 L1182.90,240.07 L1187.71,237.39 L1192.52,234.79 L1197.33,232.26 L1202.14,229.80 L1206.95,227.40 L1211.76,225.07 L1216.57,222.80 L1221.38,220.60 L1226.19,218.45 L1231.00,216.37 L1235.82,214.34 L1240.63,212.37 L1245.44,210.46 L1250.25,208.60 L1255.06,206.79 L1259.87,205.03 L1264.68,203.33 L1269.49,201.67 L1274.30,200.06 L1279.11,198.50 L1283.92,196.98 L1288.73,195.50 L1293.55,194.07 L1298.36,192.68 L1303.17,191.34 L1307.98,190.03 L1312.79,188.76 L1317.60,187.52" fill="none" stroke="#231f20" stroke-width="3.90" stroke-linecap="round" stroke-linejoin="round" mask="url(#mk2)"/>
<path d="M740.30,773.46 L745.11,770.69 L749.92,767.93 L754.73,765.16 L759.54,762.38 L764.35,759.60 L769.16,756.82 L773.98,754.04 L778.79,751.25 L783.60,748.46 L788.41,745.67 L793.22,742.87 L798.03,740.08 L802.84,737.28 L807.65,734.48 L812.46,731.67 L817.27,728.87 L822.08,726.06 L826.89,723.25 L831.71,720.45 L836.52,717.64 L841.33,714.82 L846.14,712.01 L850.95,709.20 L855.76,706.38 L860.57,703.57 L865.38,700.76 L870.19,697.94 L875.00,695.13 L879.81,692.31 L884.62,689.50 L889.44,686.69 L894.25,683.87 L899.06,681.06 L903.87,678.25 L908.68,675.44 L913.49,672.63 L918.30,669.82 L923.11,667.02 L927.92,664.21 L932.73,661.41 L937.54,658.61 L942.35,655.81 L947.17,653.02 L951.98,650.22 L956.79,647.43 L961.60,644.64 L966.41,641.86 L971.22,639.07 L976.03,636.29 L980.84,633.52 L985.65,630.74 L990.46,627.97 L995.27,625.21 L1000.08,622.44 L1004.90,619.69 L1009.71,616.93 L1014.52,614.18 L1019.33,611.43 L1024.14,608.69 L1028.95,605.96 L1033.76,603.22 L1038.57,600.49 L1043.38,597.77 L1048.19,595.05 L1053.00,592.34 L1057.82,589.64 L1062.63,586.93 L1067.44,584.24 L1072.25,581.55 L1077.06,578.86 L1081.87,576.19 L1086.68,573.51 L1091.49,570.85 L1096.30,568.19 L1101.11,565.53 L1105.92,562.89 L1110.73,560.25 L1115.55,557.61 L1120.36,554.99 L1125.17,552.37 L1129.98,549.76 L1134.79,547.15 L1139.60,544.55 L1144.41,541.96 L1149.22,539.38 L1154.03,536.80 L1158.84,534.24 L1163.65,531.68 L1168.46,529.13 L1173.27,526.58 L1178.09,524.05 L1182.90,521.52 L1187.71,519.00 L1192.52,516.49 L1197.33,513.99 L1202.14,511.49 L1206.95,509.01 L1211.76,506.53 L1216.57,504.07 L1221.38,501.61 L1226.19,499.16 L1231.00,496.72 L1235.82,494.29 L1240.63,491.86 L1245.44,489.45 L1250.25,487.05 L1255.06,484.65 L1259.87,482.27 L1264.68,479.90 L1269.49,477.53 L1274.30,475.17 L1279.11,472.83 L1283.92,470.49 L1288.73,468.17 L1293.55,465.85 L1298.36,463.55 L1303.17,461.25 L1307.98,458.96 L1312.79,456.69 L1317.60,454.42" fill="none" stroke="#d76c60" stroke-width="3.90" stroke-linecap="round" stroke-linejoin="round" stroke-dasharray="11.8 18.03"/>
<rect x="137.20" y="1229.50" width="3.40" height="18.80" rx="1.20" fill="#231f20"/>
<rect x="153.40" y="1229.50" width="4.40" height="18.80" rx="1.20" fill="#231f20"/>
<rect x="161.50" y="1229.50" width="4.70" height="18.80" rx="1.20" fill="#231f20"/>
<rect x="169.90" y="1229.50" width="4.10" height="18.80" rx="1.20" fill="#231f20"/>
<rect x="177.30" y="1229.50" width="4.80" height="18.80" rx="1.20" fill="#231f20"/>
<rect x="185.10" y="1229.50" width="4.80" height="18.80" rx="1.20" fill="#231f20"/>
<rect x="194.00" y="1229.50" width="4.20" height="18.80" rx="1.20" fill="#231f20"/>
<rect x="201.80" y="1229.50" width="4.50" height="18.80" rx="1.20" fill="#231f20"/>
<rect x="209.30" y="1229.50" width="4.80" height="18.80" rx="1.20" fill="#231f20"/>
<rect x="217.10" y="1229.50" width="4.80" height="18.80" rx="1.20" fill="#231f20"/>
<rect x="233.30" y="1229.50" width="4.50" height="18.80" rx="1.20" fill="#231f20"/>
<rect x="241.10" y="1229.50" width="4.70" height="18.80" rx="1.20" fill="#231f20"/>
<rect x="250.00" y="1229.50" width="3.80" height="18.80" rx="1.20" fill="#231f20"/>
<rect x="257.30" y="1229.50" width="4.70" height="18.80" rx="1.20" fill="#231f20"/>
<rect x="265.30" y="1229.50" width="5.20" height="18.80" rx="1.20" fill="#231f20"/>
<rect x="274.20" y="1229.50" width="3.80" height="18.80" rx="1.20" fill="#231f20"/>
<rect x="281.40" y="1229.50" width="5.30" height="18.80" rx="1.20" fill="#231f20"/>
<rect x="289.20" y="1229.50" width="5.50" height="18.80" rx="1.20" fill="#231f20"/>
<rect x="297.30" y="1229.50" width="4.80" height="18.80" rx="1.20" fill="#231f20"/>
<rect x="305.40" y="1229.50" width="4.50" height="18.80" rx="1.20" fill="#231f20"/>
<rect x="314.30" y="1229.50" width="4.50" height="18.80" rx="1.20" fill="#231f20"/>
<rect x="321.20" y="1229.50" width="5.60" height="18.80" rx="1.20" fill="#231f20"/>
<rect x="329.60" y="1229.50" width="4.40" height="18.80" rx="1.20" fill="#231f20"/>
<rect x="338.20" y="1229.50" width="4.70" height="18.80" rx="1.20" fill="#231f20"/>
<rect x="345.50" y="1229.50" width="5.20" height="18.80" rx="1.20" fill="#231f20"/>
<rect x="353.50" y="1229.50" width="5.40" height="18.80" rx="1.20" fill="#231f20"/>
<rect x="361.30" y="1229.50" width="4.70" height="18.80" rx="1.20" fill="#231f20"/>
<rect x="369.10" y="1229.50" width="5.60" height="18.80" rx="1.20" fill="#231f20"/>
<rect x="377.10" y="1229.50" width="5.40" height="18.80" rx="1.20" fill="#231f20"/>
<rect x="385.30" y="1229.50" width="5.50" height="18.80" rx="1.20" fill="#231f20"/>
<rect x="393.80" y="1229.50" width="5.20" height="18.80" rx="1.20" fill="#231f20"/>
<rect x="402.00" y="1229.50" width="4.80" height="18.80" rx="1.20" fill="#231f20"/>
<rect x="410.10" y="1229.50" width="4.70" height="18.80" rx="1.20" fill="#231f20"/>
<rect x="418.00" y="1229.50" width="4.50" height="18.80" rx="1.20" fill="#231f20"/>
<rect x="433.40" y="1229.50" width="5.00" height="18.80" rx="1.20" fill="#231f20"/>
<rect x="442.30" y="1229.50" width="3.60" height="18.80" rx="1.20" fill="#231f20"/>
<rect x="449.50" y="1229.50" width="5.00" height="18.80" rx="1.20" fill="#231f20"/>
<rect x="457.70" y="1229.50" width="4.60" height="18.80" rx="1.20" fill="#231f20"/>
<rect x="465.70" y="1229.50" width="5.00" height="18.80" rx="1.20" fill="#231f20"/>
<rect x="474.00" y="1229.50" width="4.50" height="18.80" rx="1.20" fill="#231f20"/>
<rect x="481.80" y="1229.50" width="5.00" height="18.80" rx="1.20" fill="#231f20"/>
<rect x="490.20" y="1229.50" width="4.70" height="18.80" rx="1.20" fill="#231f20"/>
<rect x="498.00" y="1229.50" width="5.00" height="18.80" rx="1.20" fill="#231f20"/>
<rect x="506.30" y="1229.50" width="4.50" height="18.80" rx="1.20" fill="#231f20"/>
<rect x="514.10" y="1229.50" width="4.80" height="18.80" rx="1.20" fill="#231f20"/>
<rect x="522.20" y="1229.50" width="4.70" height="18.80" rx="1.20" fill="#231f20"/>
<rect x="530.30" y="1229.50" width="4.70" height="18.80" rx="1.20" fill="#231f20"/>
<rect x="538.10" y="1229.50" width="4.60" height="18.80" rx="1.20" fill="#231f20"/>
<rect x="546.10" y="1229.50" width="4.80" height="18.80" rx="1.20" fill="#231f20"/>
<rect x="554.20" y="1229.50" width="4.70" height="18.80" rx="1.20" fill="#231f20"/>
<rect x="562.00" y="1229.50" width="4.70" height="18.80" rx="1.20" fill="#231f20"/>
<rect x="570.00" y="1229.50" width="4.70" height="18.80" rx="1.20" fill="#231f20"/>
<rect x="578.00" y="1229.50" width="4.70" height="18.80" rx="1.20" fill="#231f20"/>
<rect x="586.10" y="1229.50" width="4.70" height="18.80" rx="1.20" fill="#231f20"/>
<rect x="594.10" y="1229.50" width="4.70" height="18.80" rx="1.20" fill="#231f20"/>
<rect x="602.10" y="1229.50" width="4.70" height="18.80" rx="1.20" fill="#231f20"/>
<rect x="610.10" y="1229.50" width="5.10" height="18.80" rx="1.20" fill="#231f20"/>
<rect x="618.40" y="1229.50" width="4.80" height="18.80" rx="1.20" fill="#231f20"/>
<rect x="626.40" y="1229.50" width="4.50" height="18.80" rx="1.20" fill="#231f20"/>
<rect x="634.90" y="1229.50" width="3.60" height="18.80" rx="1.20" fill="#231f20"/>
<rect x="651.10" y="1229.50" width="3.60" height="18.80" rx="1.20" fill="#231f20"/>
<rect x="659.80" y="1229.50" width="2.20" height="18.80" rx="1.10" fill="#231f20"/>
<rect x="674.10" y="1229.50" width="4.70" height="18.80" rx="1.20" fill="#231f20"/>
<rect x="690.80" y="1229.50" width="4.00" height="18.80" rx="1.20" fill="#231f20"/>
<rect x="714.30" y="1229.50" width="4.40" height="18.80" rx="1.20" fill="#231f20"/>
<rect x="744.30" y="1229.50" width="3.50" height="18.80" rx="1.20" fill="#231f20"/>
<rect x="759.80" y="1229.50" width="4.20" height="18.80" rx="1.20" fill="#231f20"/>
<rect x="767.30" y="1229.50" width="4.80" height="18.80" rx="1.20" fill="#231f20"/>
<rect x="775.10" y="1229.50" width="3.90" height="18.80" rx="1.20" fill="#231f20"/>
<rect x="783.70" y="1229.50" width="4.20" height="18.80" rx="1.20" fill="#231f20"/>
<rect x="791.00" y="1229.50" width="4.90" height="18.80" rx="1.20" fill="#231f20"/>
<rect x="799.00" y="1229.50" width="4.30" height="18.80" rx="1.20" fill="#231f20"/>
<rect x="807.10" y="1229.50" width="4.70" height="18.80" rx="1.20" fill="#231f20"/>
<rect x="815.20" y="1229.50" width="4.80" height="18.80" rx="1.20" fill="#231f20"/>
<rect x="823.30" y="1229.50" width="4.70" height="18.80" rx="1.20" fill="#231f20"/>
<rect x="840.20" y="1229.50" width="3.90" height="18.80" rx="1.20" fill="#231f20"/>
<rect x="847.10" y="1229.50" width="4.80" height="18.80" rx="1.20" fill="#231f20"/>
<rect x="855.60" y="1229.50" width="4.10" height="18.80" rx="1.20" fill="#231f20"/>
<rect x="863.10" y="1229.50" width="5.00" height="18.80" rx="1.20" fill="#231f20"/>
<rect x="871.20" y="1229.50" width="4.90" height="18.80" rx="1.20" fill="#231f20"/>
<rect x="879.30" y="1229.50" width="4.90" height="18.80" rx="1.20" fill="#231f20"/>
<rect x="887.31" y="1229.50" width="4.90" height="18.80" rx="1.20" fill="#231f20"/>
<rect x="895.32" y="1229.50" width="4.90" height="18.80" rx="1.20" fill="#231f20"/>
<rect x="903.32" y="1229.50" width="4.90" height="18.80" rx="1.20" fill="#231f20"/>
<rect x="911.33" y="1229.50" width="4.90" height="18.80" rx="1.20" fill="#231f20"/>
<rect x="919.34" y="1229.50" width="4.90" height="18.80" rx="1.20" fill="#231f20"/>
<rect x="927.34" y="1229.50" width="4.90" height="18.80" rx="1.20" fill="#231f20"/>
<rect x="935.35" y="1229.50" width="4.90" height="18.80" rx="1.20" fill="#231f20"/>
<rect x="943.36" y="1229.50" width="4.90" height="18.80" rx="1.20" fill="#231f20"/>
<rect x="951.36" y="1229.50" width="4.90" height="18.80" rx="1.20" fill="#231f20"/>
<rect x="959.37" y="1229.50" width="4.90" height="18.80" rx="1.20" fill="#231f20"/>
<rect x="967.38" y="1229.50" width="4.90" height="18.80" rx="1.20" fill="#231f20"/>
<rect x="975.38" y="1229.50" width="4.90" height="18.80" rx="1.20" fill="#231f20"/>
<rect x="983.39" y="1229.50" width="4.90" height="18.80" rx="1.20" fill="#231f20"/>
<rect x="991.40" y="1229.50" width="4.90" height="18.80" rx="1.20" fill="#231f20"/>
<rect x="999.40" y="1229.50" width="4.90" height="18.80" rx="1.20" fill="#231f20"/>
<rect x="1007.41" y="1229.50" width="4.90" height="18.80" rx="1.20" fill="#231f20"/>
<rect x="1015.42" y="1229.50" width="4.90" height="18.80" rx="1.20" fill="#231f20"/>
<rect x="1023.42" y="1229.50" width="4.90" height="18.80" rx="1.20" fill="#231f20"/>
<rect x="1039.44" y="1229.50" width="4.90" height="18.80" rx="1.20" fill="#231f20"/>
<rect x="1047.44" y="1229.50" width="4.90" height="18.80" rx="1.20" fill="#231f20"/>
<rect x="1055.45" y="1229.50" width="4.90" height="18.80" rx="1.20" fill="#231f20"/>
<rect x="1063.46" y="1229.50" width="4.90" height="18.80" rx="1.20" fill="#231f20"/>
<rect x="1071.46" y="1229.50" width="4.90" height="18.80" rx="1.20" fill="#231f20"/>
<rect x="1079.47" y="1229.50" width="4.90" height="18.80" rx="1.20" fill="#231f20"/>
<rect x="1087.48" y="1229.50" width="4.90" height="18.80" rx="1.20" fill="#231f20"/>
<rect x="1095.48" y="1229.50" width="4.90" height="18.80" rx="1.20" fill="#231f20"/>
<rect x="1103.49" y="1229.50" width="4.90" height="18.80" rx="1.20" fill="#231f20"/>
<rect x="1111.50" y="1229.50" width="4.90" height="18.80" rx="1.20" fill="#231f20"/>
<rect x="1119.50" y="1229.50" width="4.90" height="18.80" rx="1.20" fill="#231f20"/>
<rect x="1127.51" y="1229.50" width="4.90" height="18.80" rx="1.20" fill="#231f20"/>
<rect x="1135.52" y="1229.50" width="4.90" height="18.80" rx="1.20" fill="#231f20"/>
<rect x="1143.52" y="1229.50" width="4.90" height="18.80" rx="1.20" fill="#231f20"/>
<rect x="1152.10" y="1229.50" width="4.20" height="18.80" rx="1.20" fill="#231f20"/>
<rect x="1159.60" y="1229.50" width="4.80" height="18.80" rx="1.20" fill="#231f20"/>
<rect x="1168.30" y="1229.50" width="4.00" height="18.80" rx="1.20" fill="#231f20"/>
<rect x="1176.10" y="1229.50" width="4.90" height="18.80" rx="1.20" fill="#231f20"/>
<rect x="1183.60" y="1229.50" width="5.20" height="18.80" rx="1.20" fill="#231f20"/>
<rect x="1192.00" y="1229.50" width="4.30" height="18.80" rx="1.20" fill="#231f20"/>
<rect x="1199.40" y="1229.50" width="5.30" height="18.80" rx="1.20" fill="#231f20"/>
<rect x="1208.10" y="1229.50" width="4.00" height="18.80" rx="1.20" fill="#231f20"/>
<rect x="1216.00" y="1229.50" width="4.50" height="18.80" rx="1.20" fill="#231f20"/>
<rect x="1224.00" y="1229.50" width="4.70" height="18.80" rx="1.20" fill="#231f20"/>
<rect x="1231.80" y="1229.50" width="4.90" height="18.80" rx="1.20" fill="#231f20"/>
<rect x="1241.40" y="1229.50" width="2.00" height="18.80" rx="1.00" fill="#231f20"/>
<rect x="1256.10" y="1229.50" width="4.60" height="18.80" rx="1.20" fill="#231f20"/>
<rect x="1264.50" y="1229.50" width="4.00" height="18.80" rx="1.20" fill="#231f20"/>
<rect x="1280.00" y="1229.50" width="4.70" height="18.80" rx="1.20" fill="#231f20"/>
<rect x="1297.40" y="1229.50" width="2.10" height="18.80" rx="1.05" fill="#231f20"/>
<rect x="1320.00" y="1229.50" width="2.80" height="18.80" rx="1.20" fill="#231f20"/>
<rect x="120.80" y="112.90" width="605.50" height="35.50" fill="#f0f0f0"/>
<rect x="726.30" y="112.90" width="605.50" height="35.50" fill="#f0f0f0"/>
<rect x="120.80" y="112.90" width="605.50" height="1135.40" fill="none" stroke="#1a1617" stroke-width="2.00"/>
<line x1="120.80" y1="148.40" x2="726.30" y2="148.40" stroke="#1a1617" stroke-width="2.00"/>
<rect x="726.30" y="112.90" width="605.50" height="1135.40" fill="none" stroke="#1a1617" stroke-width="2.00"/>
<line x1="726.30" y1="148.40" x2="1331.80" y2="148.40" stroke="#1a1617" stroke-width="2.00"/>
<line x1="211.90" y1="1248.30" x2="211.90" y2="1262.30" stroke="#1a1617" stroke-width="1.9" stroke-linecap="round"/>
<line x1="211.90" y1="112.90" x2="211.90" y2="98.60" stroke="#1a1617" stroke-width="1.9" stroke-linecap="round"/>
<text transform="translate(211.90,1298.20) scale(1,1.060)" text-anchor="middle">4</text>
<line x1="307.98" y1="1248.30" x2="307.98" y2="1262.30" stroke="#1a1617" stroke-width="1.9" stroke-linecap="round"/>
<line x1="307.98" y1="112.90" x2="307.98" y2="98.60" stroke="#1a1617" stroke-width="1.9" stroke-linecap="round"/>
<text transform="translate(307.98,1298.20) scale(1,1.060)" text-anchor="middle">5</text>
<line x1="404.06" y1="1248.30" x2="404.06" y2="1262.30" stroke="#1a1617" stroke-width="1.9" stroke-linecap="round"/>
<line x1="404.06" y1="112.90" x2="404.06" y2="98.60" stroke="#1a1617" stroke-width="1.9" stroke-linecap="round"/>
<text transform="translate(404.06,1298.20) scale(1,1.060)" text-anchor="middle">6</text>
<line x1="500.14" y1="1248.30" x2="500.14" y2="1262.30" stroke="#1a1617" stroke-width="1.9" stroke-linecap="round"/>
<line x1="500.14" y1="112.90" x2="500.14" y2="98.60" stroke="#1a1617" stroke-width="1.9" stroke-linecap="round"/>
<text transform="translate(500.14,1298.20) scale(1,1.060)" text-anchor="middle">7</text>
<line x1="596.22" y1="1248.30" x2="596.22" y2="1262.30" stroke="#1a1617" stroke-width="1.9" stroke-linecap="round"/>
<line x1="596.22" y1="112.90" x2="596.22" y2="98.60" stroke="#1a1617" stroke-width="1.9" stroke-linecap="round"/>
<text transform="translate(596.22,1298.20) scale(1,1.060)" text-anchor="middle">8</text>
<line x1="692.30" y1="1248.30" x2="692.30" y2="1262.30" stroke="#1a1617" stroke-width="1.9" stroke-linecap="round"/>
<line x1="692.30" y1="112.90" x2="692.30" y2="98.60" stroke="#1a1617" stroke-width="1.9" stroke-linecap="round"/>
<text transform="translate(692.30,1298.20) scale(1,1.060)" text-anchor="middle">9</text>
<line x1="817.70" y1="1248.30" x2="817.70" y2="1262.30" stroke="#1a1617" stroke-width="1.9" stroke-linecap="round"/>
<line x1="817.70" y1="112.90" x2="817.70" y2="98.60" stroke="#1a1617" stroke-width="1.9" stroke-linecap="round"/>
<text transform="translate(817.70,1298.20) scale(1,1.060)" text-anchor="middle">4</text>
<line x1="913.78" y1="1248.30" x2="913.78" y2="1262.30" stroke="#1a1617" stroke-width="1.9" stroke-linecap="round"/>
<line x1="913.78" y1="112.90" x2="913.78" y2="98.60" stroke="#1a1617" stroke-width="1.9" stroke-linecap="round"/>
<text transform="translate(913.78,1298.20) scale(1,1.060)" text-anchor="middle">5</text>
<line x1="1009.86" y1="1248.30" x2="1009.86" y2="1262.30" stroke="#1a1617" stroke-width="1.9" stroke-linecap="round"/>
<line x1="1009.86" y1="112.90" x2="1009.86" y2="98.60" stroke="#1a1617" stroke-width="1.9" stroke-linecap="round"/>
<text transform="translate(1009.86,1298.20) scale(1,1.060)" text-anchor="middle">6</text>
<line x1="1105.94" y1="1248.30" x2="1105.94" y2="1262.30" stroke="#1a1617" stroke-width="1.9" stroke-linecap="round"/>
<line x1="1105.94" y1="112.90" x2="1105.94" y2="98.60" stroke="#1a1617" stroke-width="1.9" stroke-linecap="round"/>
<text transform="translate(1105.94,1298.20) scale(1,1.060)" text-anchor="middle">7</text>
<line x1="1202.02" y1="1248.30" x2="1202.02" y2="1262.30" stroke="#1a1617" stroke-width="1.9" stroke-linecap="round"/>
<line x1="1202.02" y1="112.90" x2="1202.02" y2="98.60" stroke="#1a1617" stroke-width="1.9" stroke-linecap="round"/>
<text transform="translate(1202.02,1298.20) scale(1,1.060)" text-anchor="middle">8</text>
<line x1="1298.10" y1="1248.30" x2="1298.10" y2="1262.30" stroke="#1a1617" stroke-width="1.9" stroke-linecap="round"/>
<line x1="1298.10" y1="112.90" x2="1298.10" y2="98.60" stroke="#1a1617" stroke-width="1.9" stroke-linecap="round"/>
<text transform="translate(1298.10,1298.20) scale(1,1.060)" text-anchor="middle">9</text>
<line x1="106.3" y1="1248.30" x2="120.80" y2="1248.30" stroke="#1a1617" stroke-width="1.9" stroke-linecap="round"/>
<line x1="1331.80" y1="1248.30" x2="1345.0" y2="1248.30" stroke="#1a1617" stroke-width="1.9" stroke-linecap="round"/>
<text transform="translate(92.70,1259.70) scale(1,1.060)" text-anchor="end">0.0</text>
<line x1="106.3" y1="1028.34" x2="120.80" y2="1028.34" stroke="#1a1617" stroke-width="1.9" stroke-linecap="round"/>
<line x1="1331.80" y1="1028.34" x2="1345.0" y2="1028.34" stroke="#1a1617" stroke-width="1.9" stroke-linecap="round"/>
<text transform="translate(92.70,1039.74) scale(1,1.060)" text-anchor="end">0.2</text>
<line x1="106.3" y1="808.38" x2="120.80" y2="808.38" stroke="#1a1617" stroke-width="1.9" stroke-linecap="round"/>
<line x1="1331.80" y1="808.38" x2="1345.0" y2="808.38" stroke="#1a1617" stroke-width="1.9" stroke-linecap="round"/>
<text transform="translate(92.70,819.78) scale(1,1.060)" text-anchor="end">0.4</text>
<line x1="106.3" y1="588.42" x2="120.80" y2="588.42" stroke="#1a1617" stroke-width="1.9" stroke-linecap="round"/>
<line x1="1331.80" y1="588.42" x2="1345.0" y2="588.42" stroke="#1a1617" stroke-width="1.9" stroke-linecap="round"/>
<text transform="translate(92.70,599.82) scale(1,1.060)" text-anchor="end">0.6</text>
<line x1="106.3" y1="368.46" x2="120.80" y2="368.46" stroke="#1a1617" stroke-width="1.9" stroke-linecap="round"/>
<line x1="1331.80" y1="368.46" x2="1345.0" y2="368.46" stroke="#1a1617" stroke-width="1.9" stroke-linecap="round"/>
<text transform="translate(92.70,379.86) scale(1,1.060)" text-anchor="end">0.8</text>
<line x1="106.3" y1="148.50" x2="120.80" y2="148.50" stroke="#1a1617" stroke-width="1.9" stroke-linecap="round"/>
<line x1="1331.80" y1="148.50" x2="1345.0" y2="148.50" stroke="#1a1617" stroke-width="1.9" stroke-linecap="round"/>
<text transform="translate(92.70,159.90) scale(1,1.060)" text-anchor="end">1.0</text>
<text transform="translate(423.55,142.10) scale(1,1.020)" text-anchor="middle">CostType = Costly</text>
<text transform="translate(1029.05,142.10) scale(1,1.020)" text-anchor="middle">CostType = Non−Costly</text>
<text transform="translate(726.30,1349.00) scale(1,1.020)" text-anchor="middle">Age in Years</text>
<text transform="translate(21.90,698.40) rotate(-90) scale(1,1.020)" text-anchor="middle" style="font-size:29.9px">Probability of Inequity Rejection</text>
<text transform="translate(726.60,22.10) scale(1,1.020)" text-anchor="middle">InequityType</text>
<text transform="translate(572.00,51.90) scale(1,1.020)" style="font-size:23.3px">DI</text>
<text transform="translate(743.20,51.90) scale(1,1.020)" style="font-size:23.3px">AI</text>
<line x1="626.9" y1="44" x2="710.2" y2="44" stroke="#231f20" stroke-width="3.9" stroke-linecap="round"/>
<line x1="797.7" y1="44" x2="881" y2="44" stroke="#d76c60" stroke-width="3.9" stroke-linecap="round" stroke-dasharray="11.3 18.4"/>
</svg>
</body></html>
